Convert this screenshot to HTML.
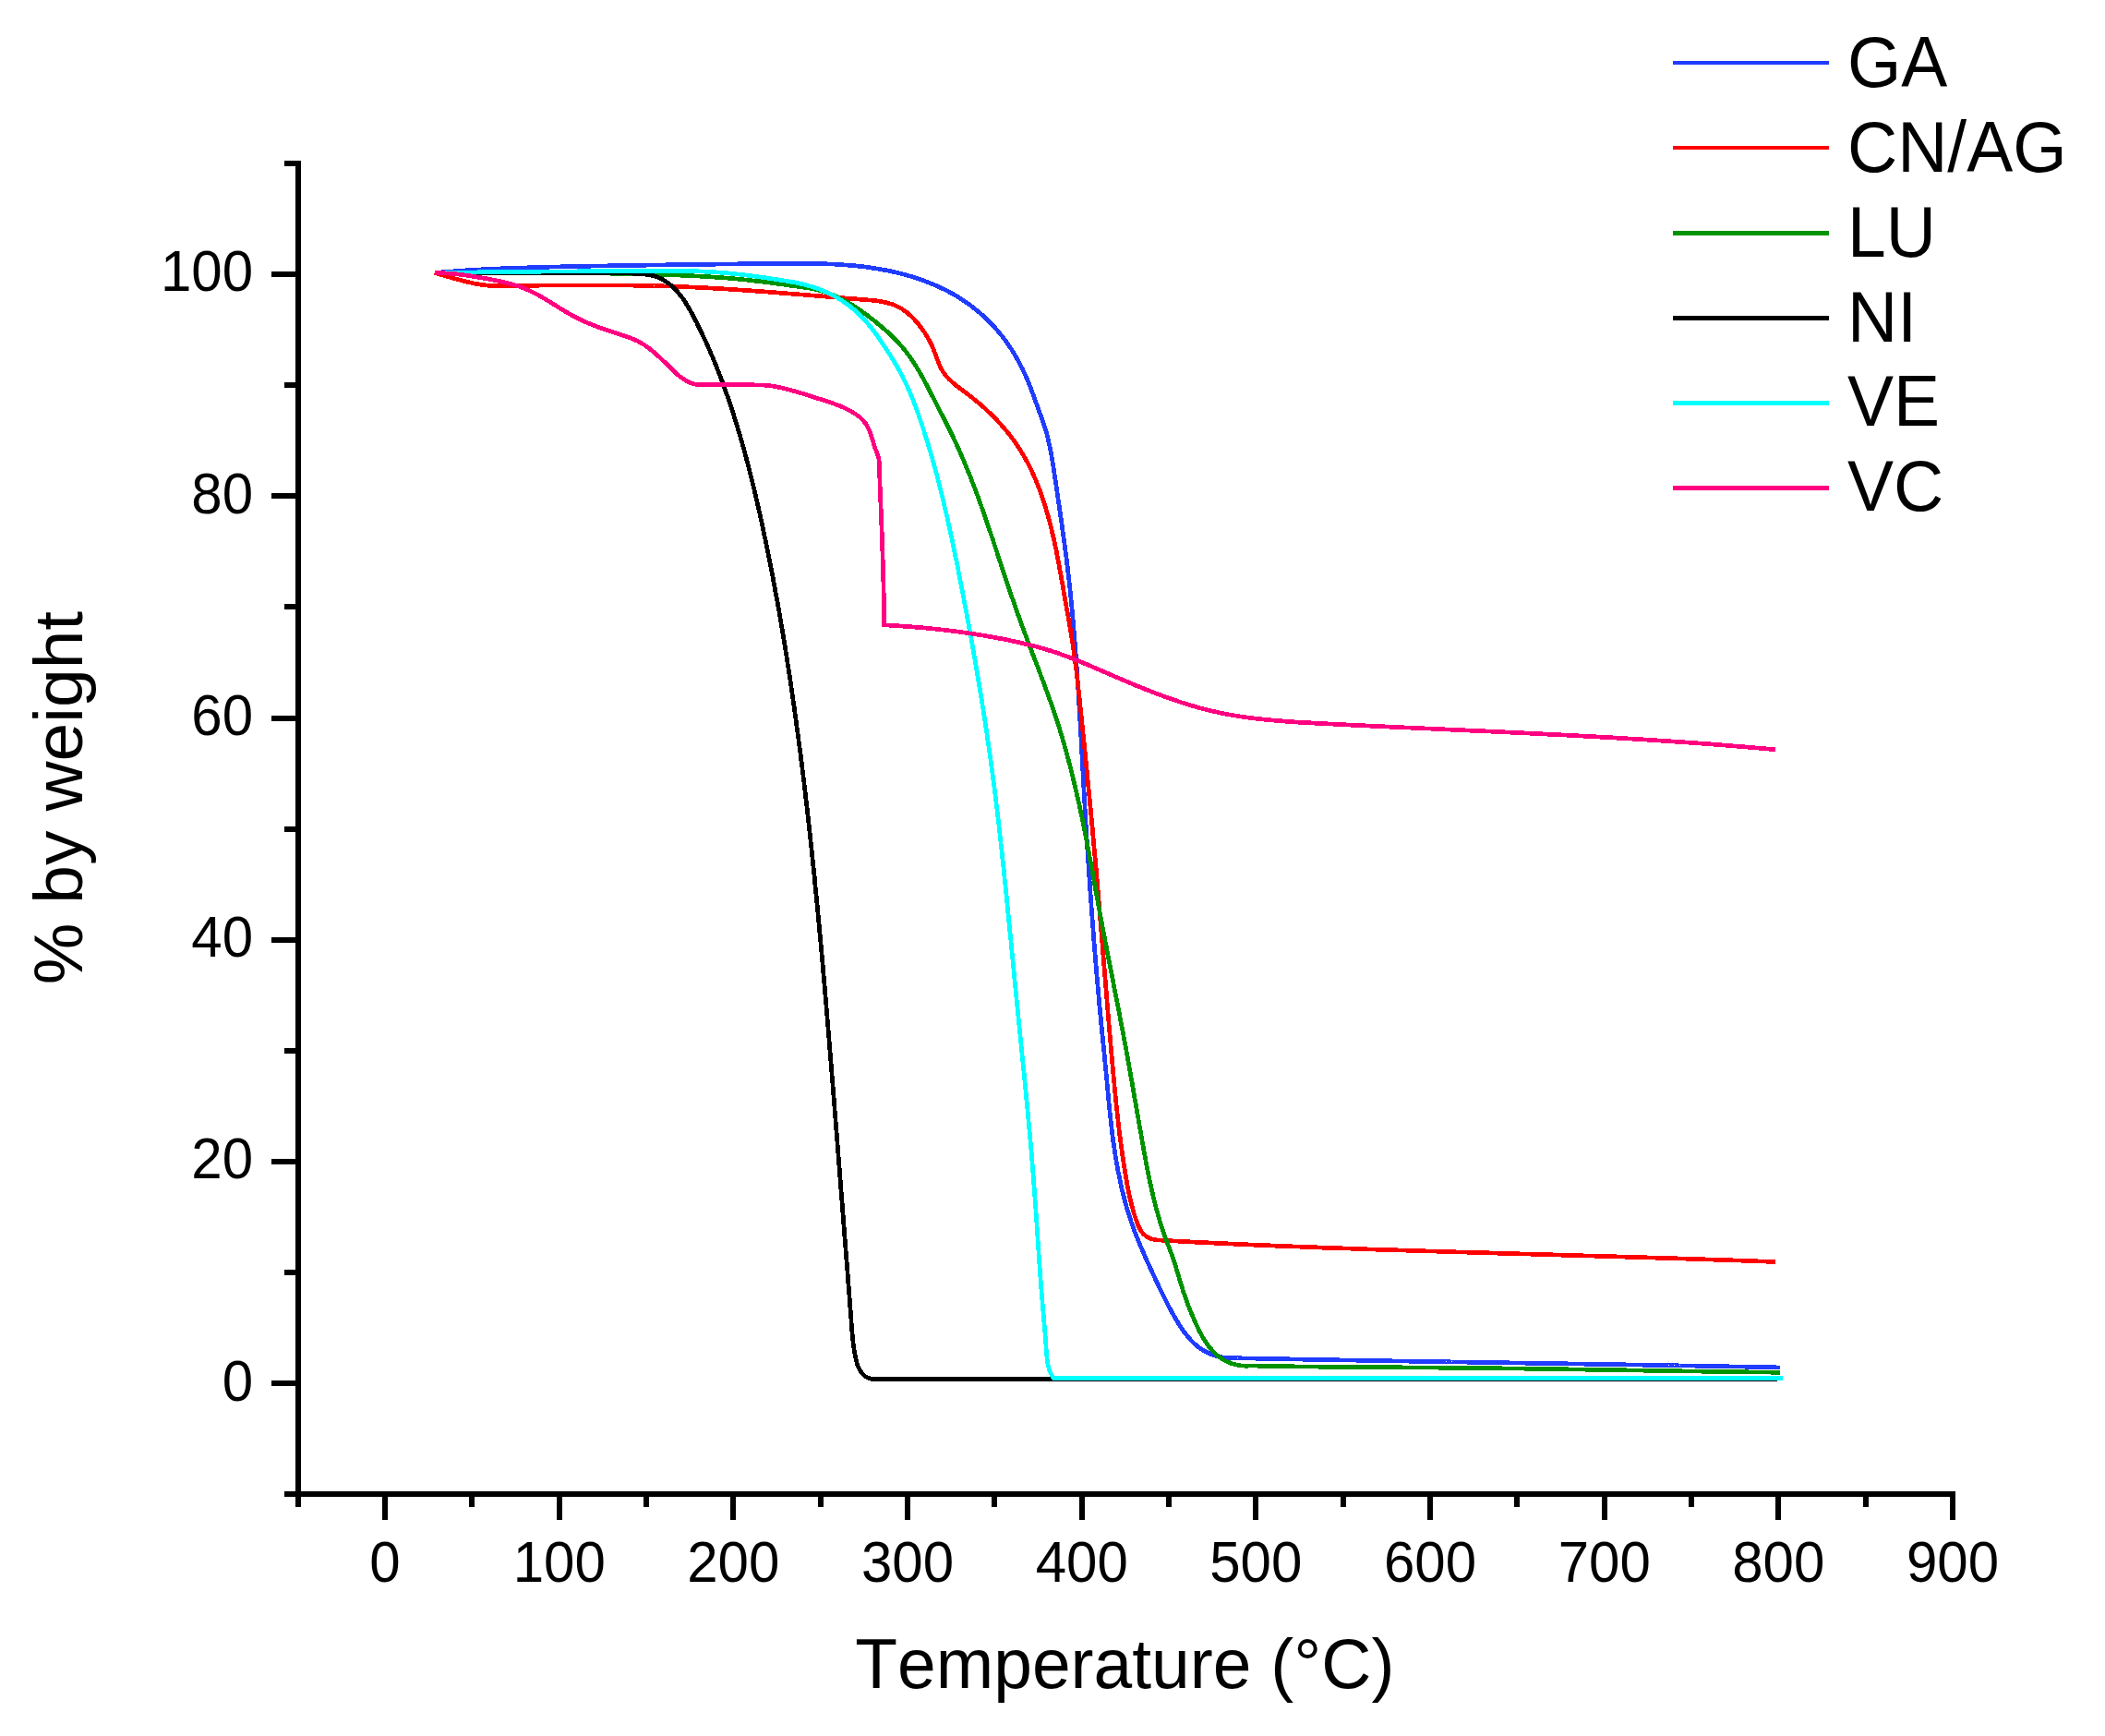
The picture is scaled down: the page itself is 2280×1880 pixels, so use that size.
<!DOCTYPE html>
<html lang="en"><head><meta charset="utf-8"><title>TGA curves</title>
<style>
html,body{margin:0;padding:0;background:#fff;}
body{width:2280px;height:1880px;overflow:hidden;}
svg{display:block;}
text{font-family:"Liberation Sans",sans-serif;fill:#000;font-kerning:none;}
.tick{font-size:60px;}
.ttl{font-size:75px;}
.leg{font-size:75px;}
</style></head><body>
<svg width="2280" height="1880" viewBox="0 0 2280 1880">
<rect x="0" y="0" width="2280" height="1880" fill="#fff"/>

<g fill="none" stroke-width="4.7" stroke-linejoin="round" stroke-linecap="butt" shape-rendering="crispEdges">
<path stroke="#1f3cff" d="M470.7,295.5 L473.7,295.3 L476.7,295.0 L479.7,294.7 L482.7,294.5 L485.7,294.2 L488.6,294.0 L491.6,293.8 L494.6,293.5 L497.6,293.3 L500.6,293.1 L503.6,292.9 L506.6,292.7 L509.6,292.5 L512.6,292.4 L515.6,292.2 L518.6,292.0 L521.6,291.8 L524.6,291.7 L527.6,291.5 L530.6,291.4 L533.6,291.2 L536.6,291.1 L539.6,291.0 L542.6,290.8 L545.6,290.7 L548.6,290.6 L551.6,290.5 L554.6,290.4 L557.6,290.3 L560.6,290.2 L563.6,290.1 L566.6,290.0 L569.6,289.9 L572.6,289.8 L575.6,289.7 L578.6,289.6 L581.7,289.5 L584.7,289.4 L587.7,289.3 L590.7,289.3 L593.7,289.2 L596.7,289.1 L599.7,289.0 L602.7,289.0 L605.7,288.9 L608.7,288.8 L611.7,288.8 L614.7,288.7 L617.7,288.6 L620.7,288.6 L623.7,288.5 L626.7,288.4 L629.7,288.4 L632.7,288.3 L635.7,288.3 L638.7,288.2 L641.7,288.1 L644.7,288.1 L647.7,288.0 L650.7,288.0 L653.7,287.9 L656.7,287.9 L659.7,287.8 L662.7,287.8 L665.7,287.7 L668.7,287.7 L671.7,287.6 L674.7,287.6 L677.7,287.5 L680.7,287.5 L683.7,287.4 L686.7,287.4 L689.7,287.3 L692.7,287.3 L695.8,287.2 L698.8,287.2 L701.8,287.1 L704.8,287.1 L707.8,287.1 L710.8,287.0 L713.8,287.0 L716.8,286.9 L719.8,286.9 L722.8,286.8 L725.8,286.8 L728.8,286.8 L731.8,286.7 L734.8,286.7 L737.8,286.6 L740.8,286.6 L743.8,286.5 L746.8,286.5 L749.8,286.5 L752.8,286.4 L755.8,286.4 L758.8,286.3 L761.8,286.3 L764.8,286.3 L767.8,286.2 L770.8,286.2 L773.8,286.2 L776.8,286.1 L779.8,286.1 L782.8,286.0 L785.8,286.0 L788.8,286.0 L791.8,285.9 L794.8,285.9 L797.8,285.9 L800.8,285.8 L803.8,285.8 L806.8,285.8 L809.8,285.7 L812.9,285.7 L815.9,285.7 L818.9,285.6 L821.9,285.6 L824.9,285.6 L827.9,285.5 L830.9,285.5 L833.9,285.5 L836.9,285.4 L839.9,285.4 L842.9,285.4 L845.9,285.3 L848.9,285.3 L851.9,285.3 L854.9,285.3 L857.9,285.3 L860.9,285.2 L863.9,285.2 L867.0,285.3 L870.0,285.3 L873.0,285.3 L876.0,285.3 L879.0,285.4 L882.0,285.4 L885.0,285.5 L888.0,285.6 L891.0,285.6 L894.0,285.7 L897.0,285.9 L900.0,286.0 L903.0,286.1 L906.0,286.3 L909.0,286.5 L911.9,286.7 L914.9,286.9 L917.9,287.1 L920.9,287.4 L923.9,287.6 L926.9,287.9 L929.9,288.2 L932.9,288.6 L935.8,288.9 L938.8,289.3 L941.8,289.7 L944.8,290.2 L947.7,290.6 L950.7,291.1 L953.7,291.6 L956.6,292.2 L959.6,292.7 L962.6,293.3 L965.5,293.9 L968.4,294.6 L971.4,295.3 L974.3,296.0 L977.2,296.7 L980.1,297.5 L983.0,298.3 L985.9,299.1 L988.8,300.0 L991.7,300.9 L994.5,301.9 L997.4,302.8 L1000.2,303.8 L1003.0,304.9 L1005.8,305.9 L1008.6,307.1 L1011.3,308.2 L1014.1,309.4 L1016.8,310.6 L1019.5,311.9 L1022.2,313.2 L1024.9,314.5 L1027.5,315.9 L1030.2,317.3 L1032.8,318.8 L1035.4,320.3 L1037.9,321.8 L1040.5,323.4 L1043.0,325.1 L1045.5,326.7 L1048.0,328.5 L1050.4,330.2 L1052.8,332.0 L1055.2,333.9 L1057.5,335.7 L1059.9,337.7 L1062.1,339.6 L1064.4,341.6 L1066.6,343.7 L1068.8,345.8 L1071.0,347.9 L1073.1,350.0 L1075.2,352.2 L1077.2,354.4 L1079.2,356.7 L1081.2,359.0 L1083.1,361.3 L1085.0,363.6 L1086.9,366.0 L1088.7,368.4 L1090.4,370.8 L1092.2,373.3 L1093.8,375.7 L1095.5,378.2 L1097.1,380.8 L1098.6,383.3 L1100.1,385.9 L1101.6,388.5 L1103.1,391.1 L1104.5,393.8 L1105.8,396.4 L1107.2,399.1 L1108.5,401.8 L1109.8,404.5 L1111.0,407.3 L1112.2,410.0 L1113.4,412.8 L1114.5,415.5 L1115.6,418.3 L1116.7,421.1 L1117.8,424.0 L1118.8,426.8 L1119.9,429.6 L1120.9,432.4 L1121.9,435.3 L1122.9,438.1 L1123.9,440.9 L1124.9,443.8 L1125.9,446.6 L1127.0,449.4 L1128.0,452.2 L1129.0,455.1 L1130.0,457.9 L1131.0,460.7 L1132.0,463.5 L1132.9,466.4 L1133.7,469.3 L1134.4,472.2 L1135.1,475.1 L1135.8,478.0 L1136.4,480.9 L1137.1,483.9 L1137.7,486.8 L1138.2,489.8 L1138.8,492.7 L1139.3,495.7 L1139.8,498.6 L1140.3,501.6 L1140.8,504.6 L1141.2,507.5 L1141.7,510.5 L1142.1,513.5 L1142.6,516.5 L1143.0,519.4 L1143.5,522.4 L1143.9,525.4 L1144.3,528.4 L1144.8,531.3 L1145.2,534.3 L1145.7,537.3 L1146.1,540.3 L1146.5,543.2 L1147.0,546.2 L1147.4,549.2 L1147.8,552.2 L1148.3,555.1 L1148.7,558.1 L1149.1,561.1 L1149.5,564.1 L1150.0,567.0 L1150.4,570.0 L1150.8,573.0 L1151.2,576.0 L1151.6,578.9 L1152.0,581.9 L1152.4,584.9 L1152.8,587.9 L1153.2,590.8 L1153.6,593.8 L1154.0,596.8 L1154.4,599.8 L1154.8,602.7 L1155.2,605.7 L1155.5,608.7 L1155.9,611.7 L1156.3,614.7 L1156.6,617.6 L1157.0,620.6 L1157.3,623.6 L1157.7,626.6 L1158.0,629.6 L1158.3,632.5 L1158.7,635.5 L1159.0,638.5 L1159.3,641.5 L1159.6,644.5 L1159.9,647.5 L1160.2,650.5 L1160.5,653.4 L1160.8,656.4 L1161.1,659.4 L1161.4,662.4 L1161.6,665.4 L1161.9,668.4 L1162.2,671.4 L1162.4,674.4 L1162.7,677.4 L1163.0,680.3 L1163.2,683.3 L1163.5,686.3 L1163.7,689.3 L1163.9,692.3 L1164.2,695.3 L1164.4,698.3 L1164.7,701.3 L1164.9,704.3 L1165.1,707.3 L1165.3,710.3 L1165.6,713.3 L1165.8,716.3 L1166.0,719.3 L1166.2,722.3 L1166.4,725.3 L1166.6,728.3 L1166.8,731.3 L1167.0,734.3 L1167.2,737.3 L1167.4,740.2 L1167.6,743.2 L1167.8,746.2 L1168.0,749.2 L1168.2,752.2 L1168.3,755.2 L1168.5,758.2 L1168.7,761.2 L1168.9,764.2 L1169.1,767.2 L1169.2,770.2 L1169.4,773.2 L1169.6,776.2 L1169.8,779.2 L1169.9,782.2 L1170.1,785.2 L1170.3,788.2 L1170.5,791.2 L1170.6,794.2 L1170.8,797.2 L1171.0,800.2 L1171.1,803.2 L1171.3,806.2 L1171.4,809.2 L1171.6,812.2 L1171.8,815.2 L1171.9,818.3 L1172.1,821.3 L1172.3,824.3 L1172.4,827.3 L1172.6,830.3 L1172.8,833.3 L1172.9,836.3 L1173.1,839.3 L1173.3,842.3 L1173.4,845.3 L1173.6,848.3 L1173.8,851.3 L1173.9,854.3 L1174.1,857.3 L1174.3,860.3 L1174.4,863.3 L1174.6,866.3 L1174.8,869.3 L1175.0,872.3 L1175.1,875.3 L1175.3,878.3 L1175.5,881.3 L1175.7,884.3 L1175.8,887.3 L1176.0,890.3 L1176.2,893.3 L1176.4,896.3 L1176.6,899.3 L1176.7,902.2 L1176.9,905.2 L1177.1,908.2 L1177.3,911.2 L1177.5,914.2 L1177.7,917.2 L1177.9,920.2 L1178.1,923.2 L1178.3,926.2 L1178.5,929.2 L1178.7,932.2 L1178.9,935.2 L1179.1,938.2 L1179.3,941.2 L1179.5,944.2 L1179.7,947.2 L1179.9,950.2 L1180.1,953.2 L1180.3,956.2 L1180.5,959.2 L1180.7,962.2 L1180.9,965.2 L1181.1,968.2 L1181.3,971.2 L1181.5,974.2 L1181.8,977.2 L1182.0,980.2 L1182.2,983.2 L1182.4,986.2 L1182.6,989.1 L1182.9,992.1 L1183.1,995.1 L1183.3,998.1 L1183.5,1001.1 L1183.8,1004.1 L1184.0,1007.1 L1184.2,1010.1 L1184.5,1013.1 L1184.7,1016.1 L1184.9,1019.1 L1185.2,1022.1 L1185.4,1025.1 L1185.7,1028.1 L1185.9,1031.1 L1186.1,1034.1 L1186.4,1037.0 L1186.6,1040.0 L1186.9,1043.0 L1187.1,1046.0 L1187.4,1049.0 L1187.7,1052.0 L1187.9,1055.0 L1188.2,1058.0 L1188.4,1061.0 L1188.7,1064.0 L1189.0,1067.0 L1189.2,1070.0 L1189.5,1073.0 L1189.8,1075.9 L1190.0,1078.9 L1190.3,1081.9 L1190.6,1084.9 L1190.8,1087.9 L1191.1,1090.9 L1191.4,1093.9 L1191.7,1096.9 L1192.0,1099.9 L1192.3,1102.9 L1192.5,1105.9 L1192.8,1108.8 L1193.1,1111.8 L1193.4,1114.8 L1193.7,1117.8 L1194.0,1120.8 L1194.3,1123.8 L1194.6,1126.8 L1194.9,1129.8 L1195.2,1132.8 L1195.5,1135.7 L1195.8,1138.7 L1196.1,1141.7 L1196.4,1144.7 L1196.7,1147.7 L1196.9,1150.7 L1197.2,1153.7 L1197.5,1156.7 L1197.8,1159.7 L1198.1,1162.7 L1198.4,1165.7 L1198.7,1168.6 L1199.0,1171.6 L1199.2,1174.6 L1199.5,1177.6 L1199.8,1180.6 L1200.1,1183.6 L1200.4,1186.6 L1200.7,1189.6 L1200.9,1192.6 L1201.2,1195.6 L1201.5,1198.6 L1201.8,1201.5 L1202.1,1204.5 L1202.4,1207.5 L1202.8,1210.5 L1203.1,1213.5 L1203.4,1216.5 L1203.8,1219.5 L1204.1,1222.4 L1204.5,1225.4 L1204.8,1228.4 L1205.2,1231.4 L1205.6,1234.4 L1206.0,1237.4 L1206.4,1240.3 L1206.9,1243.3 L1207.3,1246.3 L1207.8,1249.3 L1208.2,1252.2 L1208.7,1255.2 L1209.2,1258.1 L1209.7,1261.1 L1210.3,1264.1 L1210.8,1267.0 L1211.4,1270.0 L1212.0,1272.9 L1212.6,1275.8 L1213.2,1278.8 L1213.8,1281.7 L1214.5,1284.6 L1215.1,1287.6 L1215.8,1290.5 L1216.6,1293.4 L1217.3,1296.3 L1218.0,1299.2 L1218.8,1302.1 L1219.6,1305.0 L1220.4,1307.9 L1221.3,1310.8 L1222.2,1313.6 L1223.1,1316.5 L1224.0,1319.3 L1224.9,1322.2 L1225.9,1325.0 L1226.9,1327.9 L1227.9,1330.7 L1229.0,1333.5 L1230.0,1336.3 L1231.1,1339.1 L1232.2,1341.9 L1233.4,1344.7 L1234.5,1347.5 L1235.7,1350.3 L1236.9,1353.1 L1238.1,1355.8 L1239.3,1358.6 L1240.5,1361.3 L1241.7,1364.1 L1243.0,1366.8 L1244.2,1369.6 L1245.5,1372.3 L1246.7,1375.0 L1248.0,1377.8 L1249.2,1380.5 L1250.5,1383.2 L1251.7,1385.9 L1253.0,1388.6 L1254.3,1391.3 L1255.6,1394.0 L1256.8,1396.7 L1258.1,1399.4 L1259.4,1402.0 L1260.8,1404.7 L1262.1,1407.4 L1263.5,1410.1 L1264.9,1412.7 L1266.2,1415.4 L1267.7,1418.0 L1269.1,1420.7 L1270.6,1423.3 L1272.1,1425.9 L1273.6,1428.6 L1275.2,1431.2 L1276.8,1433.8 L1278.4,1436.4 L1280.1,1438.9 L1281.8,1441.4 L1283.6,1443.8 L1285.5,1446.2 L1287.4,1448.5 L1289.4,1450.8 L1291.4,1452.9 L1293.6,1455.0 L1295.8,1456.9 L1298.1,1458.8 L1300.5,1460.5 L1303.0,1462.1 L1305.6,1463.6 L1308.2,1465.0 L1310.9,1466.2 L1313.7,1467.3 L1316.6,1468.2 L1319.5,1469.0 L1322.4,1469.6 L1325.4,1470.1 L1328.4,1470.5 L1331.4,1470.6 L1334.5,1470.6 L1337.5,1470.7 L1340.5,1470.8 L1343.5,1470.8 L1346.6,1470.9 L1349.6,1471.0 L1352.6,1471.0 L1355.6,1471.1 L1358.6,1471.1 L1361.6,1471.2 L1364.6,1471.3 L1367.6,1471.3 L1370.7,1471.4 L1373.7,1471.4 L1376.7,1471.5 L1379.7,1471.6 L1382.7,1471.6 L1385.7,1471.7 L1388.7,1471.7 L1391.7,1471.8 L1394.8,1471.8 L1397.8,1471.9 L1400.8,1472.0 L1403.8,1472.0 L1406.8,1472.1 L1409.8,1472.1 L1412.8,1472.2 L1415.8,1472.2 L1418.9,1472.3 L1421.9,1472.3 L1424.9,1472.4 L1427.9,1472.5 L1430.9,1472.5 L1433.9,1472.6 L1436.9,1472.6 L1439.9,1472.7 L1443.0,1472.7 L1446.0,1472.8 L1449.0,1472.8 L1452.0,1472.9 L1455.0,1472.9 L1458.0,1473.0 L1461.0,1473.0 L1464.0,1473.1 L1467.1,1473.1 L1470.1,1473.2 L1473.1,1473.3 L1476.1,1473.3 L1479.1,1473.4 L1482.1,1473.4 L1485.1,1473.5 L1488.1,1473.5 L1491.2,1473.6 L1494.2,1473.6 L1497.2,1473.7 L1500.2,1473.7 L1503.2,1473.8 L1506.2,1473.8 L1509.2,1473.9 L1512.2,1473.9 L1515.3,1474.0 L1518.3,1474.0 L1521.3,1474.1 L1524.3,1474.1 L1527.3,1474.2 L1530.3,1474.2 L1533.3,1474.3 L1536.3,1474.3 L1539.4,1474.4 L1542.4,1474.4 L1545.4,1474.4 L1548.4,1474.5 L1551.4,1474.5 L1554.4,1474.6 L1557.4,1474.6 L1560.4,1474.7 L1563.5,1474.7 L1566.5,1474.8 L1569.5,1474.8 L1572.5,1474.9 L1575.5,1474.9 L1578.5,1475.0 L1581.5,1475.0 L1584.5,1475.1 L1587.6,1475.1 L1590.6,1475.2 L1593.6,1475.2 L1596.6,1475.3 L1599.6,1475.3 L1602.6,1475.4 L1605.6,1475.4 L1608.6,1475.4 L1611.7,1475.5 L1614.7,1475.5 L1617.7,1475.6 L1620.7,1475.6 L1623.7,1475.7 L1626.7,1475.7 L1629.7,1475.8 L1632.7,1475.8 L1635.8,1475.9 L1638.8,1475.9 L1641.8,1476.0 L1644.8,1476.0 L1647.8,1476.1 L1650.8,1476.1 L1653.8,1476.2 L1656.9,1476.2 L1659.9,1476.2 L1662.9,1476.3 L1665.9,1476.3 L1668.9,1476.4 L1671.9,1476.4 L1674.9,1476.5 L1677.9,1476.5 L1681.0,1476.6 L1684.0,1476.6 L1687.0,1476.7 L1690.0,1476.7 L1693.0,1476.8 L1696.0,1476.8 L1699.0,1476.9 L1702.0,1476.9 L1705.1,1477.0 L1708.1,1477.0 L1711.1,1477.1 L1714.1,1477.1 L1717.1,1477.2 L1720.1,1477.2 L1723.1,1477.2 L1726.1,1477.3 L1729.2,1477.3 L1732.2,1477.4 L1735.2,1477.4 L1738.2,1477.5 L1741.2,1477.5 L1744.2,1477.6 L1747.2,1477.6 L1750.2,1477.7 L1753.3,1477.7 L1756.3,1477.8 L1759.3,1477.8 L1762.3,1477.9 L1765.3,1477.9 L1768.3,1478.0 L1771.3,1478.0 L1774.3,1478.1 L1777.4,1478.1 L1780.4,1478.2 L1783.4,1478.2 L1786.4,1478.3 L1789.4,1478.3 L1792.4,1478.4 L1795.4,1478.4 L1798.4,1478.5 L1801.5,1478.5 L1804.5,1478.6 L1807.5,1478.7 L1810.5,1478.7 L1813.5,1478.8 L1816.5,1478.8 L1819.5,1478.9 L1822.5,1478.9 L1825.6,1479.0 L1828.6,1479.0 L1831.6,1479.1 L1834.6,1479.1 L1837.6,1479.2 L1840.6,1479.2 L1843.6,1479.3 L1846.6,1479.3 L1849.7,1479.4 L1852.7,1479.5 L1855.7,1479.5 L1858.7,1479.6 L1861.7,1479.6 L1864.7,1479.7 L1867.7,1479.7 L1870.8,1479.8 L1873.8,1479.9 L1876.8,1479.9 L1879.8,1480.0 L1882.8,1480.0 L1885.8,1480.1 L1888.8,1480.1 L1891.8,1480.2 L1894.9,1480.3 L1897.9,1480.3 L1900.9,1480.4 L1903.9,1480.4 L1906.9,1480.5 L1909.9,1480.6 L1912.9,1480.6 L1915.9,1480.7 L1919.0,1480.7 L1922.0,1480.8 L1925.0,1480.9 L1928.0,1480.9"/>
<path stroke="#ff0000" d="M470.7,295.5 L473.7,296.3 L476.7,297.2 L479.7,298.0 L482.7,298.9 L485.7,299.7 L488.7,300.6 L491.7,301.5 L494.7,302.3 L497.7,303.1 L500.7,303.9 L503.7,304.7 L506.7,305.4 L509.7,306.1 L512.8,306.8 L515.8,307.4 L518.9,307.9 L522.0,308.4 L525.0,308.8 L528.1,309.2 L531.3,309.4 L534.3,309.4 L537.3,309.4 L540.3,309.4 L543.2,309.4 L546.2,309.4 L549.2,309.4 L552.2,309.4 L555.2,309.3 L558.2,309.3 L561.2,309.3 L564.3,309.3 L567.3,309.3 L570.3,309.2 L573.3,309.2 L576.3,309.2 L579.3,309.2 L582.3,309.2 L585.3,309.1 L588.3,309.1 L591.3,309.1 L594.3,309.1 L597.3,309.1 L600.3,309.0 L603.3,309.0 L606.3,309.0 L609.3,309.0 L612.3,309.0 L615.3,309.0 L618.3,308.9 L621.4,308.9 L624.4,308.9 L627.4,308.9 L630.4,308.9 L633.4,308.9 L636.4,308.9 L639.4,308.9 L642.4,308.9 L645.4,308.9 L648.4,308.9 L651.4,308.9 L654.4,308.9 L657.5,308.9 L660.5,308.9 L663.5,308.9 L666.5,309.0 L669.5,309.0 L672.5,309.0 L675.5,309.0 L678.5,309.1 L681.5,309.1 L684.5,309.1 L687.5,309.2 L690.5,309.2 L693.5,309.3 L696.5,309.3 L699.5,309.4 L702.5,309.4 L705.5,309.5 L708.5,309.6 L711.6,309.6 L714.6,309.7 L717.6,309.8 L720.6,309.9 L723.6,310.0 L726.6,310.1 L729.6,310.2 L732.6,310.3 L735.6,310.4 L738.6,310.5 L741.6,310.6 L744.5,310.8 L747.5,310.9 L750.5,311.0 L753.5,311.2 L756.5,311.3 L759.5,311.5 L762.5,311.6 L765.5,311.8 L768.5,311.9 L771.5,312.1 L774.5,312.3 L777.5,312.4 L780.5,312.6 L783.5,312.8 L786.5,313.0 L789.5,313.2 L792.4,313.4 L795.4,313.6 L798.4,313.8 L801.4,314.0 L804.4,314.2 L807.4,314.4 L810.4,314.6 L813.4,314.8 L816.4,315.0 L819.4,315.3 L822.4,315.5 L825.4,315.7 L828.3,315.9 L831.3,316.1 L834.3,316.4 L837.3,316.6 L840.3,316.8 L843.3,317.1 L846.3,317.3 L849.3,317.5 L852.3,317.8 L855.3,318.0 L858.3,318.3 L861.3,318.5 L864.3,318.7 L867.3,319.0 L870.3,319.2 L873.3,319.5 L876.3,319.7 L879.3,320.0 L882.3,320.2 L885.3,320.5 L888.3,320.7 L891.3,320.9 L894.3,321.2 L897.3,321.4 L900.3,321.7 L903.3,321.9 L906.3,322.2 L909.3,322.4 L912.3,322.6 L915.3,322.9 L918.3,323.1 L921.4,323.4 L924.4,323.6 L927.4,323.8 L930.4,324.1 L933.4,324.3 L936.4,324.5 L939.5,324.8 L942.5,325.0 L945.5,325.3 L948.4,325.7 L951.4,326.1 L954.3,326.5 L957.2,327.1 L960.1,327.7 L962.9,328.5 L965.7,329.3 L968.4,330.3 L971.1,331.5 L973.8,332.8 L976.3,334.2 L978.8,335.9 L981.3,337.6 L983.6,339.5 L985.9,341.5 L988.2,343.7 L990.3,345.9 L992.4,348.2 L994.4,350.6 L996.3,353.0 L998.2,355.4 L999.9,357.9 L1001.6,360.4 L1003.2,362.9 L1004.7,365.4 L1006.1,367.9 L1007.5,370.5 L1008.8,373.1 L1010.0,375.8 L1011.2,378.5 L1012.3,381.4 L1013.3,384.2 L1014.4,387.2 L1015.5,390.1 L1016.6,393.0 L1017.8,395.8 L1019.1,398.6 L1020.5,401.2 L1022.1,403.7 L1023.9,406.1 L1025.8,408.3 L1027.8,410.5 L1029.9,412.5 L1032.1,414.5 L1034.3,416.4 L1036.7,418.2 L1039.0,420.0 L1041.4,421.8 L1043.8,423.6 L1046.2,425.4 L1048.6,427.2 L1051.0,429.1 L1053.4,431.0 L1055.7,432.9 L1058.1,434.8 L1060.4,436.7 L1062.7,438.7 L1064.9,440.7 L1067.2,442.7 L1069.4,444.8 L1071.6,446.9 L1073.7,449.0 L1075.9,451.1 L1078.0,453.2 L1080.1,455.4 L1082.1,457.6 L1084.2,459.8 L1086.2,462.1 L1088.1,464.4 L1090.1,466.7 L1091.9,469.0 L1093.8,471.3 L1095.6,473.7 L1097.4,476.1 L1099.2,478.6 L1100.9,481.0 L1102.6,483.5 L1104.2,486.0 L1105.8,488.5 L1107.3,491.1 L1108.9,493.7 L1110.3,496.2 L1111.8,498.9 L1113.2,501.5 L1114.6,504.2 L1115.9,506.9 L1117.2,509.6 L1118.5,512.3 L1119.7,515.0 L1120.9,517.8 L1122.1,520.5 L1123.2,523.3 L1124.3,526.1 L1125.4,528.9 L1126.5,531.7 L1127.5,534.6 L1128.5,537.4 L1129.5,540.3 L1130.4,543.1 L1131.3,546.0 L1132.2,548.9 L1133.1,551.7 L1134.0,554.6 L1134.8,557.5 L1135.6,560.4 L1136.4,563.3 L1137.1,566.2 L1137.9,569.1 L1138.6,572.1 L1139.3,575.0 L1140.0,577.9 L1140.7,580.8 L1141.4,583.7 L1142.0,586.7 L1142.6,589.6 L1143.3,592.5 L1143.9,595.5 L1144.5,598.4 L1145.0,601.3 L1145.6,604.3 L1146.2,607.2 L1146.7,610.2 L1147.3,613.1 L1147.8,616.1 L1148.4,619.0 L1148.9,622.0 L1149.4,624.9 L1149.9,627.9 L1150.5,630.8 L1151.0,633.8 L1151.5,636.7 L1152.0,639.7 L1152.5,642.7 L1153.0,645.6 L1153.5,648.6 L1154.1,651.5 L1154.6,654.5 L1155.1,657.5 L1155.6,660.4 L1156.2,663.4 L1156.7,666.3 L1157.2,669.3 L1157.7,672.2 L1158.2,675.2 L1158.7,678.2 L1159.3,681.1 L1159.8,684.1 L1160.2,687.1 L1160.7,690.0 L1161.2,693.0 L1161.7,696.0 L1162.1,698.9 L1162.6,701.9 L1163.0,704.9 L1163.5,707.8 L1163.9,710.8 L1164.3,713.8 L1164.7,716.8 L1165.0,719.8 L1165.4,722.7 L1165.8,725.7 L1166.1,728.7 L1166.5,731.7 L1166.8,734.7 L1167.1,737.6 L1167.5,740.6 L1167.8,743.6 L1168.1,746.6 L1168.4,749.6 L1168.8,752.6 L1169.1,755.6 L1169.4,758.6 L1169.7,761.5 L1170.0,764.5 L1170.3,767.5 L1170.7,770.5 L1171.0,773.5 L1171.3,776.5 L1171.6,779.5 L1171.9,782.4 L1172.2,785.4 L1172.5,788.4 L1172.8,791.4 L1173.1,794.4 L1173.4,797.4 L1173.8,800.4 L1174.1,803.4 L1174.4,806.3 L1174.7,809.3 L1175.0,812.3 L1175.3,815.3 L1175.6,818.3 L1175.9,821.3 L1176.2,824.3 L1176.5,827.3 L1176.8,830.3 L1177.1,833.2 L1177.4,836.2 L1177.7,839.2 L1178.0,842.2 L1178.2,845.2 L1178.5,848.2 L1178.8,851.2 L1179.1,854.2 L1179.4,857.2 L1179.7,860.1 L1180.0,863.1 L1180.3,866.1 L1180.6,869.1 L1180.8,872.1 L1181.1,875.1 L1181.4,878.1 L1181.7,881.1 L1182.0,884.1 L1182.3,887.0 L1182.5,890.0 L1182.8,893.0 L1183.1,896.0 L1183.4,899.0 L1183.6,902.0 L1183.9,905.0 L1184.2,908.0 L1184.5,911.0 L1184.7,914.0 L1185.0,917.0 L1185.3,919.9 L1185.6,922.9 L1185.8,925.9 L1186.1,928.9 L1186.4,931.9 L1186.6,934.9 L1186.9,937.9 L1187.2,940.9 L1187.4,943.9 L1187.7,946.9 L1187.9,949.9 L1188.2,952.9 L1188.5,955.8 L1188.7,958.8 L1189.0,961.8 L1189.2,964.8 L1189.5,967.8 L1189.7,970.8 L1190.0,973.8 L1190.2,976.8 L1190.5,979.8 L1190.7,982.8 L1191.0,985.8 L1191.2,988.8 L1191.5,991.8 L1191.7,994.8 L1192.0,997.8 L1192.2,1000.7 L1192.5,1003.7 L1192.7,1006.7 L1192.9,1009.7 L1193.2,1012.7 L1193.4,1015.7 L1193.7,1018.7 L1193.9,1021.7 L1194.2,1024.7 L1194.4,1027.7 L1194.6,1030.7 L1194.9,1033.7 L1195.1,1036.7 L1195.4,1039.7 L1195.6,1042.7 L1195.9,1045.7 L1196.1,1048.7 L1196.3,1051.6 L1196.6,1054.6 L1196.8,1057.6 L1197.1,1060.6 L1197.3,1063.6 L1197.6,1066.6 L1197.8,1069.6 L1198.1,1072.6 L1198.3,1075.6 L1198.5,1078.6 L1198.8,1081.6 L1199.0,1084.6 L1199.3,1087.6 L1199.5,1090.6 L1199.8,1093.6 L1200.0,1096.6 L1200.3,1099.5 L1200.5,1102.5 L1200.8,1105.5 L1201.0,1108.5 L1201.3,1111.5 L1201.6,1114.5 L1201.8,1117.5 L1202.1,1120.5 L1202.3,1123.5 L1202.6,1126.5 L1202.9,1129.5 L1203.1,1132.5 L1203.4,1135.4 L1203.6,1138.4 L1203.9,1141.4 L1204.2,1144.4 L1204.5,1147.4 L1204.7,1150.4 L1205.0,1153.4 L1205.3,1156.4 L1205.5,1159.4 L1205.8,1162.4 L1206.1,1165.4 L1206.4,1168.3 L1206.7,1171.3 L1207.0,1174.3 L1207.2,1177.3 L1207.5,1180.3 L1207.8,1183.3 L1208.1,1186.3 L1208.4,1189.3 L1208.7,1192.2 L1209.0,1195.2 L1209.3,1198.2 L1209.7,1201.2 L1210.0,1204.2 L1210.3,1207.2 L1210.6,1210.2 L1211.0,1213.1 L1211.3,1216.1 L1211.6,1219.1 L1212.0,1222.1 L1212.3,1225.1 L1212.7,1228.1 L1213.1,1231.1 L1213.5,1234.0 L1213.9,1237.0 L1214.3,1240.0 L1214.7,1243.0 L1215.1,1246.0 L1215.5,1248.9 L1215.9,1251.9 L1216.4,1254.9 L1216.8,1257.9 L1217.3,1260.8 L1217.7,1263.8 L1218.2,1266.8 L1218.7,1269.7 L1219.2,1272.7 L1219.7,1275.6 L1220.2,1278.6 L1220.7,1281.5 L1221.3,1284.5 L1221.8,1287.4 L1222.4,1290.4 L1223.0,1293.3 L1223.6,1296.2 L1224.3,1299.1 L1225.0,1302.1 L1225.7,1305.0 L1226.5,1307.9 L1227.3,1310.8 L1228.1,1313.7 L1229.0,1316.6 L1230.0,1319.5 L1231.0,1322.4 L1232.1,1325.3 L1233.3,1328.1 L1234.6,1330.7 L1236.1,1333.3 L1237.9,1335.6 L1239.9,1337.6 L1242.2,1339.4 L1244.9,1340.8 L1247.8,1341.9 L1250.8,1342.6 L1253.8,1343.0 L1256.8,1343.1 L1259.8,1343.3 L1262.8,1343.5 L1265.8,1343.6 L1268.8,1343.8 L1271.8,1344.0 L1274.8,1344.1 L1277.8,1344.3 L1280.8,1344.4 L1283.8,1344.6 L1286.8,1344.8 L1289.8,1344.9 L1292.8,1345.1 L1295.8,1345.2 L1298.8,1345.4 L1301.8,1345.5 L1304.8,1345.7 L1307.8,1345.8 L1310.8,1346.0 L1313.8,1346.1 L1316.8,1346.3 L1319.8,1346.4 L1322.8,1346.5 L1325.8,1346.7 L1328.8,1346.8 L1331.8,1347.0 L1334.8,1347.1 L1337.8,1347.2 L1340.8,1347.4 L1343.8,1347.5 L1346.8,1347.6 L1349.8,1347.8 L1352.8,1347.9 L1355.8,1348.0 L1358.8,1348.2 L1361.8,1348.3 L1364.8,1348.4 L1367.8,1348.6 L1370.8,1348.7 L1373.8,1348.8 L1376.8,1348.9 L1379.8,1349.1 L1382.8,1349.2 L1385.8,1349.3 L1388.8,1349.4 L1391.8,1349.6 L1394.8,1349.7 L1397.8,1349.8 L1400.8,1349.9 L1403.8,1350.0 L1406.8,1350.1 L1409.8,1350.3 L1412.8,1350.4 L1415.8,1350.5 L1418.8,1350.6 L1421.8,1350.7 L1424.8,1350.8 L1427.8,1350.9 L1430.8,1351.1 L1433.9,1351.2 L1436.9,1351.3 L1439.9,1351.4 L1442.9,1351.5 L1445.9,1351.6 L1448.9,1351.7 L1451.9,1351.8 L1454.9,1351.9 L1457.9,1352.0 L1460.9,1352.1 L1463.9,1352.2 L1466.9,1352.3 L1469.9,1352.4 L1472.9,1352.5 L1475.9,1352.7 L1478.9,1352.8 L1481.9,1352.9 L1484.9,1353.0 L1487.9,1353.1 L1490.9,1353.2 L1493.9,1353.3 L1496.9,1353.4 L1499.9,1353.4 L1502.9,1353.5 L1505.9,1353.6 L1508.9,1353.7 L1511.9,1353.8 L1514.9,1353.9 L1517.9,1354.0 L1520.9,1354.1 L1523.9,1354.2 L1527.0,1354.3 L1530.0,1354.4 L1533.0,1354.5 L1536.0,1354.6 L1539.0,1354.7 L1542.0,1354.8 L1545.0,1354.9 L1548.0,1355.0 L1551.0,1355.1 L1554.0,1355.1 L1557.0,1355.2 L1560.0,1355.3 L1563.0,1355.4 L1566.0,1355.5 L1569.0,1355.6 L1572.0,1355.7 L1575.0,1355.8 L1578.0,1355.9 L1581.0,1356.0 L1584.0,1356.0 L1587.0,1356.1 L1590.0,1356.2 L1593.0,1356.3 L1596.0,1356.4 L1599.0,1356.5 L1602.0,1356.6 L1605.0,1356.7 L1608.1,1356.7 L1611.1,1356.8 L1614.1,1356.9 L1617.1,1357.0 L1620.1,1357.1 L1623.1,1357.2 L1626.1,1357.3 L1629.1,1357.4 L1632.1,1357.4 L1635.1,1357.5 L1638.1,1357.6 L1641.1,1357.7 L1644.1,1357.8 L1647.1,1357.9 L1650.1,1358.0 L1653.1,1358.0 L1656.1,1358.1 L1659.1,1358.2 L1662.1,1358.3 L1665.1,1358.4 L1668.1,1358.5 L1671.1,1358.6 L1674.1,1358.7 L1677.1,1358.7 L1680.1,1358.8 L1683.2,1358.9 L1686.2,1359.0 L1689.2,1359.1 L1692.2,1359.2 L1695.2,1359.3 L1698.2,1359.3 L1701.2,1359.4 L1704.2,1359.5 L1707.2,1359.6 L1710.2,1359.7 L1713.2,1359.8 L1716.2,1359.9 L1719.2,1360.0 L1722.2,1360.0 L1725.2,1360.1 L1728.2,1360.2 L1731.2,1360.3 L1734.2,1360.4 L1737.2,1360.5 L1740.2,1360.6 L1743.2,1360.7 L1746.2,1360.7 L1749.2,1360.8 L1752.2,1360.9 L1755.2,1361.0 L1758.2,1361.1 L1761.3,1361.2 L1764.3,1361.3 L1767.3,1361.4 L1770.3,1361.5 L1773.3,1361.5 L1776.3,1361.6 L1779.3,1361.7 L1782.3,1361.8 L1785.3,1361.9 L1788.3,1362.0 L1791.3,1362.1 L1794.3,1362.2 L1797.3,1362.3 L1800.3,1362.4 L1803.3,1362.5 L1806.3,1362.6 L1809.3,1362.7 L1812.3,1362.7 L1815.3,1362.8 L1818.3,1362.9 L1821.3,1363.0 L1824.3,1363.1 L1827.3,1363.2 L1830.3,1363.3 L1833.3,1363.4 L1836.3,1363.5 L1839.3,1363.6 L1842.3,1363.7 L1845.4,1363.8 L1848.4,1363.9 L1851.4,1364.0 L1854.4,1364.1 L1857.4,1364.2 L1860.4,1364.3 L1863.4,1364.4 L1866.4,1364.5 L1869.4,1364.6 L1872.4,1364.7 L1875.4,1364.8 L1878.4,1364.9 L1881.4,1365.0 L1884.4,1365.1 L1887.4,1365.2 L1890.4,1365.3 L1893.4,1365.4 L1896.4,1365.5 L1899.4,1365.6 L1902.4,1365.8 L1905.4,1365.9 L1908.4,1366.0 L1911.4,1366.1 L1914.4,1366.2 L1917.4,1366.3 L1920.4,1366.4 L1923.4,1366.5"/>
<path stroke="#009300" d="M470.7,295.5 L473.7,295.5 L476.7,295.5 L479.7,295.5 L482.7,295.5 L485.7,295.5 L488.7,295.5 L491.7,295.5 L494.7,295.5 L497.7,295.5 L500.7,295.5 L503.7,295.5 L506.7,295.5 L509.7,295.5 L512.7,295.5 L515.7,295.5 L518.7,295.5 L521.7,295.5 L524.7,295.5 L527.7,295.5 L530.7,295.5 L533.7,295.5 L536.7,295.5 L539.7,295.5 L542.7,295.5 L545.7,295.5 L548.7,295.5 L551.7,295.5 L554.7,295.5 L557.7,295.5 L560.7,295.5 L563.7,295.5 L566.7,295.5 L569.7,295.5 L572.7,295.5 L575.7,295.5 L578.7,295.5 L581.7,295.5 L584.7,295.5 L587.7,295.5 L590.7,295.5 L593.7,295.5 L596.7,295.5 L599.7,295.6 L602.7,295.6 L605.7,295.6 L608.7,295.6 L611.7,295.6 L614.8,295.6 L617.8,295.7 L620.8,295.7 L623.8,295.7 L626.8,295.7 L629.8,295.8 L632.8,295.8 L635.8,295.8 L638.8,295.8 L641.8,295.9 L644.8,295.9 L647.8,295.9 L650.8,296.0 L653.8,296.0 L656.8,296.1 L659.8,296.1 L662.8,296.2 L665.8,296.2 L668.8,296.3 L671.8,296.3 L674.8,296.4 L677.8,296.4 L680.8,296.5 L683.8,296.6 L686.8,296.6 L689.8,296.7 L692.8,296.8 L695.8,296.8 L698.8,296.9 L701.8,297.0 L704.8,297.1 L707.8,297.1 L710.8,297.2 L713.8,297.3 L716.8,297.4 L719.8,297.5 L722.8,297.6 L725.8,297.7 L728.8,297.8 L731.8,297.9 L734.8,298.0 L737.8,298.2 L740.8,298.3 L743.8,298.4 L746.8,298.6 L749.8,298.7 L752.8,298.9 L755.8,299.0 L758.8,299.2 L761.7,299.3 L764.7,299.5 L767.7,299.7 L770.7,299.9 L773.7,300.1 L776.7,300.3 L779.7,300.5 L782.7,300.8 L785.7,301.0 L788.7,301.2 L791.7,301.5 L794.7,301.8 L797.6,302.0 L800.6,302.3 L803.6,302.6 L806.6,302.9 L809.6,303.2 L812.6,303.6 L815.5,303.9 L818.5,304.3 L821.5,304.6 L824.5,305.0 L827.5,305.4 L830.4,305.7 L833.4,306.1 L836.4,306.5 L839.4,306.9 L842.4,307.3 L845.3,307.7 L848.3,308.1 L851.3,308.5 L854.3,309.0 L857.2,309.4 L860.2,309.8 L863.2,310.2 L866.2,310.6 L869.1,311.0 L872.1,311.4 L875.1,311.8 L878.0,312.3 L881.0,312.8 L883.9,313.5 L886.8,314.2 L889.7,314.9 L892.6,315.8 L895.4,316.8 L898.2,317.8 L901.0,318.9 L903.8,320.0 L906.5,321.3 L909.2,322.6 L911.9,323.9 L914.5,325.3 L917.1,326.8 L919.7,328.3 L922.3,329.8 L924.8,331.4 L927.3,333.0 L929.8,334.7 L932.3,336.4 L934.8,338.2 L937.2,339.9 L939.6,341.7 L942.0,343.6 L944.4,345.4 L946.8,347.3 L949.1,349.2 L951.5,351.1 L953.8,353.0 L956.1,354.9 L958.4,356.9 L960.6,358.9 L962.8,361.0 L965.0,363.0 L967.2,365.1 L969.3,367.2 L971.4,369.4 L973.4,371.6 L975.4,373.8 L977.4,376.0 L979.3,378.3 L981.1,380.7 L982.9,383.0 L984.7,385.4 L986.4,387.8 L988.1,390.3 L989.8,392.8 L991.4,395.3 L992.9,397.9 L994.5,400.4 L996.0,403.0 L997.5,405.6 L999.0,408.3 L1000.4,410.9 L1001.8,413.6 L1003.3,416.2 L1004.7,418.9 L1006.0,421.6 L1007.4,424.3 L1008.8,426.9 L1010.2,429.6 L1011.6,432.3 L1012.9,435.0 L1014.3,437.7 L1015.7,440.3 L1017.1,443.0 L1018.4,445.7 L1019.8,448.3 L1021.2,451.0 L1022.5,453.7 L1023.9,456.3 L1025.2,459.0 L1026.6,461.7 L1027.9,464.4 L1029.2,467.1 L1030.6,469.8 L1031.9,472.4 L1033.1,475.1 L1034.4,477.9 L1035.7,480.6 L1036.9,483.3 L1038.2,486.0 L1039.4,488.8 L1040.6,491.5 L1041.8,494.2 L1043.0,497.0 L1044.2,499.7 L1045.3,502.5 L1046.5,505.3 L1047.6,508.1 L1048.7,510.8 L1049.9,513.6 L1051.0,516.4 L1052.1,519.2 L1053.1,522.0 L1054.2,524.8 L1055.3,527.6 L1056.4,530.4 L1057.4,533.2 L1058.5,536.0 L1059.5,538.9 L1060.5,541.7 L1061.5,544.5 L1062.6,547.3 L1063.6,550.2 L1064.6,553.0 L1065.6,555.8 L1066.6,558.7 L1067.5,561.5 L1068.5,564.4 L1069.5,567.2 L1070.5,570.0 L1071.4,572.9 L1072.4,575.7 L1073.4,578.6 L1074.3,581.4 L1075.3,584.3 L1076.2,587.1 L1077.2,590.0 L1078.1,592.8 L1079.1,595.7 L1080.0,598.5 L1080.9,601.4 L1081.9,604.2 L1082.8,607.1 L1083.8,609.9 L1084.7,612.8 L1085.6,615.6 L1086.6,618.5 L1087.5,621.3 L1088.5,624.2 L1089.4,627.0 L1090.4,629.9 L1091.3,632.7 L1092.3,635.5 L1093.2,638.4 L1094.2,641.2 L1095.2,644.1 L1096.1,646.9 L1097.1,649.7 L1098.1,652.6 L1099.1,655.4 L1100.1,658.2 L1101.0,661.1 L1102.0,663.9 L1103.1,666.7 L1104.1,669.5 L1105.1,672.4 L1106.1,675.2 L1107.1,678.0 L1108.2,680.8 L1109.2,683.6 L1110.3,686.4 L1111.3,689.2 L1112.4,692.1 L1113.5,694.9 L1114.5,697.7 L1115.6,700.5 L1116.7,703.3 L1117.7,706.1 L1118.8,708.9 L1119.9,711.7 L1120.9,714.5 L1122.0,717.3 L1123.1,720.1 L1124.2,722.9 L1125.2,725.7 L1126.3,728.5 L1127.3,731.3 L1128.4,734.2 L1129.5,737.0 L1130.5,739.8 L1131.5,742.6 L1132.6,745.4 L1133.6,748.2 L1134.6,751.0 L1135.7,753.9 L1136.7,756.7 L1137.7,759.5 L1138.7,762.4 L1139.7,765.2 L1140.6,768.0 L1141.6,770.9 L1142.6,773.7 L1143.5,776.5 L1144.4,779.4 L1145.4,782.3 L1146.3,785.1 L1147.2,788.0 L1148.1,790.8 L1148.9,793.7 L1149.8,796.6 L1150.7,799.4 L1151.5,802.3 L1152.3,805.2 L1153.2,808.1 L1154.0,811.0 L1154.8,813.9 L1155.6,816.8 L1156.4,819.7 L1157.1,822.5 L1157.9,825.4 L1158.7,828.4 L1159.4,831.3 L1160.1,834.2 L1160.9,837.1 L1161.6,840.0 L1162.3,842.9 L1163.0,845.8 L1163.7,848.7 L1164.4,851.7 L1165.1,854.6 L1165.8,857.5 L1166.4,860.4 L1167.1,863.4 L1167.8,866.3 L1168.4,869.2 L1169.1,872.1 L1169.7,875.1 L1170.3,878.0 L1170.9,880.9 L1171.6,883.9 L1172.2,886.8 L1172.8,889.8 L1173.4,892.7 L1174.0,895.6 L1174.6,898.6 L1175.1,901.5 L1175.7,904.5 L1176.3,907.4 L1176.9,910.4 L1177.4,913.3 L1178.0,916.3 L1178.6,919.2 L1179.1,922.1 L1179.7,925.1 L1180.2,928.0 L1180.8,931.0 L1181.3,933.9 L1181.9,936.9 L1182.4,939.8 L1183.0,942.8 L1183.5,945.7 L1184.0,948.7 L1184.6,951.7 L1185.1,954.6 L1185.7,957.6 L1186.2,960.5 L1186.7,963.5 L1187.3,966.4 L1187.8,969.4 L1188.3,972.3 L1188.9,975.3 L1189.4,978.2 L1189.9,981.2 L1190.5,984.1 L1191.0,987.1 L1191.6,990.0 L1192.1,993.0 L1192.7,995.9 L1193.2,998.9 L1193.8,1001.8 L1194.3,1004.8 L1194.9,1007.7 L1195.4,1010.7 L1196.0,1013.6 L1196.6,1016.6 L1197.1,1019.5 L1197.7,1022.5 L1198.3,1025.4 L1198.8,1028.4 L1199.4,1031.3 L1200.0,1034.3 L1200.5,1037.2 L1201.1,1040.2 L1201.7,1043.1 L1202.3,1046.1 L1202.9,1049.0 L1203.4,1052.0 L1204.0,1054.9 L1204.6,1057.8 L1205.2,1060.8 L1205.8,1063.7 L1206.3,1066.7 L1206.9,1069.6 L1207.5,1072.6 L1208.1,1075.5 L1208.6,1078.5 L1209.2,1081.4 L1209.8,1084.4 L1210.4,1087.3 L1211.0,1090.3 L1211.5,1093.2 L1212.1,1096.1 L1212.7,1099.1 L1213.2,1102.0 L1213.8,1105.0 L1214.4,1107.9 L1214.9,1110.9 L1215.5,1113.8 L1216.0,1116.8 L1216.6,1119.7 L1217.1,1122.7 L1217.7,1125.6 L1218.2,1128.6 L1218.8,1131.5 L1219.3,1134.5 L1219.9,1137.4 L1220.4,1140.4 L1220.9,1143.3 L1221.5,1146.3 L1222.0,1149.2 L1222.5,1152.2 L1223.0,1155.1 L1223.6,1158.1 L1224.1,1161.0 L1224.6,1164.0 L1225.1,1166.9 L1225.6,1169.9 L1226.2,1172.8 L1226.7,1175.8 L1227.2,1178.8 L1227.7,1181.7 L1228.2,1184.7 L1228.7,1187.6 L1229.3,1190.6 L1229.8,1193.5 L1230.3,1196.5 L1230.8,1199.4 L1231.3,1202.4 L1231.8,1205.3 L1232.3,1208.3 L1232.9,1211.3 L1233.4,1214.2 L1233.9,1217.2 L1234.4,1220.1 L1234.9,1223.1 L1235.5,1226.0 L1236.0,1229.0 L1236.5,1232.0 L1237.0,1234.9 L1237.5,1237.9 L1238.1,1240.8 L1238.6,1243.8 L1239.1,1246.7 L1239.7,1249.7 L1240.2,1252.7 L1240.8,1255.6 L1241.3,1258.6 L1241.9,1261.5 L1242.4,1264.5 L1243.0,1267.4 L1243.6,1270.4 L1244.2,1273.3 L1244.8,1276.3 L1245.4,1279.2 L1246.0,1282.1 L1246.7,1285.1 L1247.3,1288.0 L1248.0,1290.9 L1248.6,1293.8 L1249.3,1296.8 L1250.0,1299.7 L1250.8,1302.6 L1251.5,1305.5 L1252.3,1308.4 L1253.1,1311.3 L1253.9,1314.2 L1254.7,1317.0 L1255.5,1319.9 L1256.4,1322.8 L1257.3,1325.6 L1258.2,1328.5 L1259.1,1331.3 L1260.1,1334.2 L1261.1,1337.0 L1262.1,1339.8 L1263.1,1342.6 L1264.2,1345.5 L1265.2,1348.3 L1266.3,1351.1 L1267.3,1353.9 L1268.4,1356.7 L1269.4,1359.5 L1270.4,1362.4 L1271.4,1365.2 L1272.3,1368.1 L1273.2,1371.0 L1274.1,1373.8 L1274.9,1376.7 L1275.8,1379.6 L1276.7,1382.5 L1277.5,1385.4 L1278.4,1388.2 L1279.3,1391.1 L1280.2,1393.9 L1281.1,1396.8 L1282.0,1399.6 L1283.0,1402.4 L1284.0,1405.3 L1285.0,1408.1 L1286.0,1410.9 L1287.0,1413.7 L1288.1,1416.5 L1289.2,1419.2 L1290.3,1422.0 L1291.5,1424.8 L1292.7,1427.6 L1293.9,1430.3 L1295.1,1433.1 L1296.4,1435.8 L1297.7,1438.6 L1299.0,1441.3 L1300.4,1444.0 L1301.9,1446.7 L1303.4,1449.3 L1305.0,1451.9 L1306.6,1454.4 L1308.3,1456.8 L1310.2,1459.2 L1312.1,1461.4 L1314.1,1463.6 L1316.2,1465.7 L1318.4,1467.7 L1320.7,1469.5 L1323.2,1471.2 L1325.7,1472.8 L1328.3,1474.2 L1331.0,1475.4 L1333.8,1476.5 L1336.7,1477.4 L1339.6,1478.1 L1342.5,1478.7 L1345.5,1479.0 L1348.6,1479.2 L1351.6,1479.2 L1354.7,1479.0 L1357.7,1479.0 L1360.7,1479.1 L1363.7,1479.2 L1366.7,1479.2 L1369.7,1479.3 L1372.7,1479.4 L1375.7,1479.4 L1378.7,1479.5 L1381.7,1479.5 L1384.7,1479.6 L1387.7,1479.6 L1390.7,1479.7 L1393.7,1479.7 L1396.7,1479.8 L1399.8,1479.8 L1402.8,1479.9 L1405.8,1479.9 L1408.8,1479.9 L1411.8,1480.0 L1414.8,1480.0 L1417.8,1480.0 L1420.8,1480.1 L1423.8,1480.1 L1426.8,1480.1 L1429.8,1480.2 L1432.8,1480.2 L1435.8,1480.2 L1438.8,1480.3 L1441.8,1480.3 L1444.8,1480.3 L1447.8,1480.3 L1450.8,1480.4 L1453.8,1480.4 L1456.8,1480.4 L1459.8,1480.4 L1462.8,1480.5 L1465.8,1480.5 L1468.8,1480.5 L1471.8,1480.5 L1474.8,1480.5 L1477.8,1480.6 L1480.8,1480.6 L1483.8,1480.6 L1486.8,1480.6 L1489.8,1480.6 L1492.9,1480.7 L1495.9,1480.7 L1498.9,1480.7 L1501.9,1480.7 L1504.9,1480.7 L1507.9,1480.8 L1510.9,1480.8 L1513.9,1480.8 L1516.9,1480.8 L1519.9,1480.9 L1522.9,1480.9 L1525.9,1480.9 L1528.9,1480.9 L1531.9,1480.9 L1534.9,1481.0 L1537.9,1481.0 L1540.9,1481.0 L1543.9,1481.0 L1546.9,1481.1 L1549.9,1481.1 L1552.9,1481.1 L1555.9,1481.1 L1558.9,1481.2 L1561.9,1481.2 L1564.9,1481.2 L1567.9,1481.2 L1570.9,1481.3 L1573.9,1481.3 L1576.9,1481.3 L1579.9,1481.4 L1583.0,1481.4 L1586.0,1481.4 L1589.0,1481.4 L1592.0,1481.5 L1595.0,1481.5 L1598.0,1481.5 L1601.0,1481.6 L1604.0,1481.6 L1607.0,1481.6 L1610.0,1481.7 L1613.0,1481.7 L1616.0,1481.7 L1619.0,1481.8 L1622.0,1481.8 L1625.0,1481.8 L1628.0,1481.9 L1631.0,1481.9 L1634.0,1481.9 L1637.0,1482.0 L1640.0,1482.0 L1643.0,1482.0 L1646.0,1482.1 L1649.0,1482.1 L1652.0,1482.2 L1655.0,1482.2 L1658.0,1482.2 L1661.0,1482.3 L1664.0,1482.3 L1667.0,1482.4 L1670.1,1482.4 L1673.1,1482.5 L1676.1,1482.5 L1679.1,1482.5 L1682.1,1482.6 L1685.1,1482.6 L1688.1,1482.7 L1691.1,1482.7 L1694.1,1482.8 L1697.1,1482.8 L1700.1,1482.9 L1703.1,1482.9 L1706.1,1483.0 L1709.1,1483.0 L1712.1,1483.1 L1715.1,1483.1 L1718.1,1483.2 L1721.1,1483.2 L1724.1,1483.2 L1727.1,1483.3 L1730.1,1483.3 L1733.1,1483.4 L1736.1,1483.4 L1739.1,1483.5 L1742.1,1483.5 L1745.1,1483.6 L1748.1,1483.6 L1751.1,1483.7 L1754.2,1483.7 L1757.2,1483.8 L1760.2,1483.8 L1763.2,1483.9 L1766.2,1483.9 L1769.2,1484.0 L1772.2,1484.0 L1775.2,1484.1 L1778.2,1484.1 L1781.2,1484.2 L1784.2,1484.2 L1787.2,1484.3 L1790.2,1484.3 L1793.2,1484.4 L1796.2,1484.4 L1799.2,1484.5 L1802.2,1484.5 L1805.2,1484.6 L1808.2,1484.6 L1811.2,1484.7 L1814.2,1484.7 L1817.2,1484.8 L1820.2,1484.8 L1823.2,1484.9 L1826.2,1484.9 L1829.2,1485.0 L1832.3,1485.0 L1835.3,1485.1 L1838.3,1485.1 L1841.3,1485.1 L1844.3,1485.2 L1847.3,1485.2 L1850.3,1485.3 L1853.3,1485.3 L1856.3,1485.4 L1859.3,1485.4 L1862.3,1485.5 L1865.3,1485.5 L1868.3,1485.5 L1871.3,1485.6 L1874.3,1485.6 L1877.3,1485.7 L1880.3,1485.7 L1883.3,1485.7 L1886.3,1485.8 L1889.3,1485.8 L1892.3,1485.8 L1895.3,1485.9 L1898.3,1485.9 L1901.3,1486.0 L1904.3,1486.0 L1907.3,1486.0 L1910.3,1486.1 L1913.4,1486.1 L1916.4,1486.1 L1919.4,1486.2 L1922.4,1486.2 L1925.4,1486.2 L1928.4,1486.2"/>
<path stroke="#000000" d="M470.7,295.5 L473.7,295.5 L476.7,295.5 L479.7,295.5 L482.7,295.5 L485.7,295.5 L488.7,295.5 L491.7,295.5 L494.7,295.5 L497.7,295.5 L500.7,295.5 L503.7,295.5 L506.7,295.5 L509.7,295.5 L512.7,295.5 L515.7,295.5 L518.7,295.5 L521.7,295.5 L524.7,295.5 L527.7,295.5 L530.7,295.5 L533.7,295.5 L536.7,295.5 L539.7,295.5 L542.7,295.5 L545.7,295.5 L548.7,295.5 L551.7,295.5 L554.7,295.5 L557.7,295.5 L560.7,295.5 L563.7,295.5 L566.7,295.5 L569.7,295.4 L572.7,295.4 L575.7,295.4 L578.7,295.4 L581.8,295.4 L584.8,295.4 L587.8,295.4 L590.8,295.4 L593.8,295.4 L596.8,295.4 L599.8,295.4 L602.8,295.4 L605.8,295.4 L608.8,295.4 L611.8,295.4 L614.8,295.4 L617.8,295.4 L620.8,295.4 L623.8,295.4 L626.8,295.4 L629.8,295.4 L632.8,295.4 L635.8,295.5 L638.8,295.5 L641.8,295.5 L644.8,295.6 L647.8,295.6 L650.7,295.6 L653.7,295.7 L656.7,295.7 L659.7,295.8 L662.7,295.8 L665.7,295.9 L668.7,295.9 L671.7,295.9 L674.8,296.0 L677.8,296.0 L680.8,296.1 L683.8,296.1 L686.8,296.2 L689.9,296.4 L692.9,296.5 L695.9,296.8 L699.0,297.1 L702.0,297.4 L704.9,298.0 L707.8,298.7 L710.6,299.5 L713.4,300.6 L716.1,301.8 L718.7,303.2 L721.2,304.8 L723.6,306.5 L725.9,308.3 L728.2,310.2 L730.3,312.3 L732.4,314.4 L734.4,316.7 L736.3,319.0 L738.1,321.3 L739.9,323.8 L741.6,326.2 L743.2,328.8 L744.8,331.3 L746.3,334.0 L747.8,336.6 L749.3,339.3 L750.7,341.9 L752.1,344.6 L753.5,347.3 L754.9,350.0 L756.2,352.7 L757.5,355.4 L758.9,358.1 L760.2,360.9 L761.4,363.6 L762.7,366.3 L764.0,369.0 L765.2,371.7 L766.4,374.5 L767.7,377.2 L768.9,380.0 L770.0,382.7 L771.2,385.5 L772.4,388.2 L773.5,391.0 L774.7,393.8 L775.8,396.5 L776.9,399.3 L778.0,402.1 L779.1,404.9 L780.1,407.7 L781.2,410.5 L782.3,413.3 L783.3,416.1 L784.3,418.9 L785.3,421.7 L786.3,424.6 L787.3,427.4 L788.3,430.2 L789.3,433.0 L790.3,435.9 L791.2,438.7 L792.2,441.6 L793.1,444.4 L794.0,447.3 L794.9,450.1 L795.8,453.0 L796.7,455.8 L797.6,458.7 L798.5,461.6 L799.3,464.5 L800.2,467.3 L801.0,470.2 L801.9,473.1 L802.7,476.0 L803.5,478.9 L804.4,481.8 L805.2,484.6 L806.0,487.5 L806.8,490.4 L807.5,493.3 L808.3,496.2 L809.1,499.1 L809.9,502.1 L810.6,505.0 L811.4,507.9 L812.1,510.8 L812.8,513.7 L813.6,516.6 L814.3,519.5 L815.0,522.5 L815.7,525.4 L816.4,528.3 L817.1,531.2 L817.8,534.2 L818.5,537.1 L819.2,540.0 L819.8,542.9 L820.5,545.9 L821.2,548.8 L821.8,551.7 L822.5,554.7 L823.2,557.6 L823.8,560.5 L824.5,563.5 L825.1,566.4 L825.7,569.3 L826.4,572.3 L827.0,575.2 L827.6,578.2 L828.2,581.1 L828.9,584.0 L829.5,587.0 L830.1,589.9 L830.7,592.8 L831.3,595.8 L831.9,598.7 L832.5,601.7 L833.1,604.6 L833.6,607.6 L834.2,610.5 L834.8,613.4 L835.4,616.4 L835.9,619.3 L836.5,622.3 L837.1,625.2 L837.6,628.2 L838.2,631.1 L838.7,634.1 L839.3,637.0 L839.8,640.0 L840.4,642.9 L840.9,645.9 L841.5,648.8 L842.0,651.8 L842.5,654.7 L843.0,657.7 L843.6,660.6 L844.1,663.6 L844.6,666.5 L845.1,669.5 L845.6,672.4 L846.1,675.4 L846.6,678.3 L847.1,681.3 L847.6,684.3 L848.1,687.2 L848.6,690.2 L849.1,693.1 L849.6,696.1 L850.1,699.0 L850.5,702.0 L851.0,705.0 L851.5,707.9 L852.0,710.9 L852.4,713.8 L852.9,716.8 L853.3,719.8 L853.8,722.7 L854.3,725.7 L854.7,728.7 L855.2,731.6 L855.6,734.6 L856.1,737.6 L856.5,740.5 L856.9,743.5 L857.4,746.5 L857.8,749.4 L858.2,752.4 L858.7,755.4 L859.1,758.3 L859.5,761.3 L860.0,764.3 L860.4,767.2 L860.8,770.2 L861.2,773.2 L861.6,776.1 L862.0,779.1 L862.4,782.1 L862.8,785.1 L863.2,788.0 L863.6,791.0 L864.0,794.0 L864.4,796.9 L864.8,799.9 L865.2,802.9 L865.6,805.9 L866.0,808.8 L866.4,811.8 L866.8,814.8 L867.2,817.8 L867.5,820.7 L867.9,823.7 L868.3,826.7 L868.7,829.7 L869.0,832.7 L869.4,835.6 L869.8,838.6 L870.1,841.6 L870.5,844.6 L870.9,847.5 L871.2,850.5 L871.6,853.5 L871.9,856.5 L872.3,859.5 L872.6,862.4 L873.0,865.4 L873.3,868.4 L873.7,871.4 L874.0,874.4 L874.4,877.4 L874.7,880.3 L875.0,883.3 L875.4,886.3 L875.7,889.3 L876.0,892.3 L876.4,895.3 L876.7,898.2 L877.0,901.2 L877.4,904.2 L877.7,907.2 L878.0,910.2 L878.3,913.2 L878.6,916.1 L879.0,919.1 L879.3,922.1 L879.6,925.1 L879.9,928.1 L880.2,931.1 L880.5,934.1 L880.8,937.0 L881.1,940.0 L881.4,943.0 L881.7,946.0 L882.1,949.0 L882.4,952.0 L882.7,955.0 L882.9,958.0 L883.2,961.0 L883.5,963.9 L883.8,966.9 L884.1,969.9 L884.4,972.9 L884.7,975.9 L885.0,978.9 L885.3,981.9 L885.6,984.9 L885.9,987.9 L886.1,990.8 L886.4,993.8 L886.7,996.8 L887.0,999.8 L887.3,1002.8 L887.5,1005.8 L887.8,1008.8 L888.1,1011.8 L888.4,1014.8 L888.7,1017.8 L888.9,1020.8 L889.2,1023.7 L889.5,1026.7 L889.7,1029.7 L890.0,1032.7 L890.3,1035.7 L890.5,1038.7 L890.8,1041.7 L891.1,1044.7 L891.3,1047.7 L891.6,1050.7 L891.9,1053.7 L892.1,1056.6 L892.4,1059.6 L892.6,1062.6 L892.9,1065.6 L893.2,1068.6 L893.4,1071.6 L893.7,1074.6 L893.9,1077.6 L894.2,1080.6 L894.5,1083.6 L894.7,1086.6 L895.0,1089.6 L895.2,1092.5 L895.5,1095.5 L895.7,1098.5 L896.0,1101.5 L896.2,1104.5 L896.5,1107.5 L896.7,1110.5 L897.0,1113.5 L897.2,1116.5 L897.5,1119.5 L897.7,1122.5 L898.0,1125.5 L898.2,1128.4 L898.4,1131.4 L898.7,1134.4 L898.9,1137.4 L899.2,1140.4 L899.4,1143.4 L899.7,1146.4 L899.9,1149.4 L900.2,1152.4 L900.4,1155.4 L900.6,1158.4 L900.9,1161.4 L901.1,1164.3 L901.4,1167.3 L901.6,1170.3 L901.9,1173.3 L902.1,1176.3 L902.3,1179.3 L902.6,1182.3 L902.8,1185.3 L903.1,1188.3 L903.3,1191.3 L903.5,1194.2 L903.8,1197.2 L904.0,1200.2 L904.2,1203.2 L904.5,1206.2 L904.7,1209.2 L905.0,1212.2 L905.2,1215.2 L905.4,1218.2 L905.7,1221.2 L905.9,1224.2 L906.1,1227.1 L906.4,1230.1 L906.6,1233.1 L906.9,1236.1 L907.1,1239.1 L907.3,1242.1 L907.6,1245.1 L907.8,1248.1 L908.0,1251.1 L908.3,1254.1 L908.5,1257.1 L908.7,1260.0 L909.0,1263.0 L909.2,1266.0 L909.4,1269.0 L909.7,1272.0 L909.9,1275.0 L910.1,1278.0 L910.4,1281.0 L910.6,1284.0 L910.8,1287.0 L911.1,1290.0 L911.3,1293.0 L911.5,1295.9 L911.8,1298.9 L912.0,1301.9 L912.3,1304.9 L912.5,1307.9 L912.7,1310.9 L913.0,1313.9 L913.2,1316.9 L913.4,1319.9 L913.7,1322.9 L913.9,1325.9 L914.1,1328.9 L914.4,1331.9 L914.6,1334.8 L914.8,1337.8 L915.1,1340.8 L915.3,1343.8 L915.5,1346.8 L915.8,1349.8 L916.0,1352.8 L916.2,1355.8 L916.5,1358.8 L916.7,1361.8 L917.0,1364.8 L917.2,1367.8 L917.4,1370.8 L917.7,1373.8 L917.9,1376.8 L918.1,1379.8 L918.4,1382.7 L918.6,1385.7 L918.8,1388.7 L919.0,1391.7 L919.3,1394.7 L919.5,1397.7 L919.7,1400.7 L920.0,1403.7 L920.2,1406.7 L920.4,1409.7 L920.6,1412.7 L920.9,1415.7 L921.1,1418.7 L921.3,1421.6 L921.5,1424.6 L921.8,1427.6 L922.0,1430.6 L922.2,1433.6 L922.4,1436.6 L922.6,1439.6 L922.9,1442.6 L923.2,1445.6 L923.4,1448.6 L923.8,1451.6 L924.1,1454.5 L924.5,1457.5 L924.9,1460.5 L925.4,1463.5 L926.0,1466.5 L926.6,1469.5 L927.3,1472.5 L928.0,1475.4 L928.9,1478.3 L930.0,1481.1 L931.2,1483.7 L932.8,1486.1 L934.5,1488.2 L936.6,1490.1 L939.1,1491.6 L941.9,1492.8 L945.1,1493.5 L948.1,1493.5 L951.1,1493.5 L954.1,1493.5 L957.2,1493.5 L960.2,1493.5 L963.2,1493.5 L966.2,1493.5 L969.2,1493.5 L972.2,1493.5 L975.2,1493.5 L978.2,1493.5 L981.2,1493.5 L984.2,1493.5 L987.2,1493.5 L990.2,1493.5 L993.2,1493.5 L996.2,1493.5 L999.2,1493.5 L1002.2,1493.5 L1005.2,1493.5 L1008.3,1493.5 L1011.3,1493.5 L1014.3,1493.5 L1017.3,1493.5 L1020.3,1493.5 L1023.3,1493.5 L1026.3,1493.5 L1029.3,1493.5 L1032.3,1493.5 L1035.3,1493.5 L1038.3,1493.5 L1041.3,1493.5 L1044.3,1493.5 L1047.3,1493.5 L1050.3,1493.5 L1053.3,1493.5 L1056.3,1493.5 L1059.3,1493.5 L1062.4,1493.5 L1065.4,1493.5 L1068.4,1493.5 L1071.4,1493.5 L1074.4,1493.5 L1077.4,1493.5 L1080.4,1493.5 L1083.4,1493.5 L1086.4,1493.5 L1089.4,1493.5 L1092.4,1493.5 L1095.4,1493.5 L1098.4,1493.5 L1101.4,1493.5 L1104.4,1493.5 L1107.4,1493.5 L1110.4,1493.5 L1113.5,1493.5 L1116.5,1493.5 L1119.5,1493.5 L1122.5,1493.5 L1125.5,1493.5 L1128.5,1493.5 L1131.5,1493.5 L1134.5,1493.5 L1137.5,1493.5 L1140.5,1493.5 L1143.5,1493.5 L1146.5,1493.5 L1149.5,1493.5 L1152.5,1493.5 L1155.5,1493.5 L1158.5,1493.5 L1161.5,1493.5 L1164.5,1493.5 L1167.6,1493.5 L1170.6,1493.5 L1173.6,1493.5 L1176.6,1493.5 L1179.6,1493.5 L1182.6,1493.5 L1185.6,1493.5 L1188.6,1493.5 L1191.6,1493.5 L1194.6,1493.5 L1197.6,1493.5 L1200.6,1493.5 L1203.6,1493.5 L1206.6,1493.5 L1209.6,1493.5 L1212.6,1493.5 L1215.6,1493.5 L1218.7,1493.5 L1221.7,1493.5 L1224.7,1493.5 L1227.7,1493.5 L1230.7,1493.5 L1233.7,1493.5 L1236.7,1493.5 L1239.7,1493.5 L1242.7,1493.5 L1245.7,1493.5 L1248.7,1493.5 L1251.7,1493.5 L1254.7,1493.5 L1257.7,1493.5 L1260.7,1493.5 L1263.7,1493.5 L1266.7,1493.5 L1269.7,1493.5 L1272.8,1493.5 L1275.8,1493.5 L1278.8,1493.5 L1281.8,1493.5 L1284.8,1493.5 L1287.8,1493.5 L1290.8,1493.5 L1293.8,1493.5 L1296.8,1493.5 L1299.8,1493.5 L1302.8,1493.5 L1305.8,1493.5 L1308.8,1493.5 L1311.8,1493.5 L1314.8,1493.5 L1317.8,1493.5 L1320.8,1493.5 L1323.9,1493.5 L1326.9,1493.5 L1329.9,1493.5 L1332.9,1493.5 L1335.9,1493.5 L1338.9,1493.5 L1341.9,1493.5 L1344.9,1493.5 L1347.9,1493.5 L1350.9,1493.5 L1353.9,1493.5 L1356.9,1493.5 L1359.9,1493.5 L1362.9,1493.5 L1365.9,1493.5 L1368.9,1493.5 L1371.9,1493.5 L1375.0,1493.5 L1378.0,1493.5 L1381.0,1493.5 L1384.0,1493.5 L1387.0,1493.5 L1390.0,1493.5 L1393.0,1493.5 L1396.0,1493.5 L1399.0,1493.5 L1402.0,1493.5 L1405.0,1493.5 L1408.0,1493.5 L1411.0,1493.5 L1414.0,1493.5 L1417.0,1493.5 L1420.0,1493.5 L1423.0,1493.5 L1426.0,1493.5 L1429.1,1493.5 L1432.1,1493.5 L1435.1,1493.5 L1438.1,1493.5 L1441.1,1493.5 L1444.1,1493.5 L1447.1,1493.5 L1450.1,1493.5 L1453.1,1493.5 L1456.1,1493.5 L1459.1,1493.5 L1462.1,1493.5 L1465.1,1493.5 L1468.1,1493.5 L1471.1,1493.5 L1474.1,1493.5 L1477.1,1493.5 L1480.2,1493.5 L1483.2,1493.5 L1486.2,1493.5 L1489.2,1493.5 L1492.2,1493.5 L1495.2,1493.5 L1498.2,1493.5 L1501.2,1493.5 L1504.2,1493.5 L1507.2,1493.5 L1510.2,1493.5 L1513.2,1493.5 L1516.2,1493.5 L1519.2,1493.5 L1522.2,1493.5 L1525.2,1493.5 L1528.2,1493.5 L1531.2,1493.5 L1534.3,1493.5 L1537.3,1493.5 L1540.3,1493.5 L1543.3,1493.5 L1546.3,1493.5 L1549.3,1493.5 L1552.3,1493.5 L1555.3,1493.5 L1558.3,1493.5 L1561.3,1493.5 L1564.3,1493.5 L1567.3,1493.5 L1570.3,1493.5 L1573.3,1493.5 L1576.3,1493.5 L1579.3,1493.5 L1582.3,1493.5 L1585.4,1493.5 L1588.4,1493.5 L1591.4,1493.5 L1594.4,1493.5 L1597.4,1493.5 L1600.4,1493.5 L1603.4,1493.5 L1606.4,1493.5 L1609.4,1493.5 L1612.4,1493.5 L1615.4,1493.5 L1618.4,1493.5 L1621.4,1493.5 L1624.4,1493.5 L1627.4,1493.5 L1630.4,1493.5 L1633.4,1493.5 L1636.4,1493.5 L1639.5,1493.5 L1642.5,1493.5 L1645.5,1493.5 L1648.5,1493.5 L1651.5,1493.5 L1654.5,1493.5 L1657.5,1493.5 L1660.5,1493.5 L1663.5,1493.5 L1666.5,1493.5 L1669.5,1493.5 L1672.5,1493.5 L1675.5,1493.5 L1678.5,1493.5 L1681.5,1493.5 L1684.5,1493.5 L1687.5,1493.5 L1690.6,1493.5 L1693.6,1493.5 L1696.6,1493.5 L1699.6,1493.5 L1702.6,1493.5 L1705.6,1493.5 L1708.6,1493.5 L1711.6,1493.5 L1714.6,1493.5 L1717.6,1493.5 L1720.6,1493.5 L1723.6,1493.5 L1726.6,1493.5 L1729.6,1493.5 L1732.6,1493.5 L1735.6,1493.5 L1738.6,1493.5 L1741.7,1493.5 L1744.7,1493.5 L1747.7,1493.5 L1750.7,1493.5 L1753.7,1493.5 L1756.7,1493.5 L1759.7,1493.5 L1762.7,1493.5 L1765.7,1493.5 L1768.7,1493.5 L1771.7,1493.5 L1774.7,1493.5 L1777.7,1493.5 L1780.7,1493.5 L1783.7,1493.5 L1786.7,1493.5 L1789.7,1493.5 L1792.7,1493.5 L1795.8,1493.5 L1798.8,1493.5 L1801.8,1493.5 L1804.8,1493.5 L1807.8,1493.5 L1810.8,1493.5 L1813.8,1493.5 L1816.8,1493.5 L1819.8,1493.5 L1822.8,1493.5 L1825.8,1493.5 L1828.8,1493.5 L1831.8,1493.5 L1834.8,1493.5 L1837.8,1493.5 L1840.8,1493.5 L1843.8,1493.5 L1846.9,1493.5 L1849.9,1493.5 L1852.9,1493.5 L1855.9,1493.5 L1858.9,1493.5 L1861.9,1493.5 L1864.9,1493.5 L1867.9,1493.5 L1870.9,1493.5 L1873.9,1493.5 L1876.9,1493.5 L1879.9,1493.5 L1882.9,1493.5 L1885.9,1493.5 L1888.9,1493.5 L1891.9,1493.5 L1894.9,1493.5 L1897.9,1493.5 L1901.0,1493.5 L1904.0,1493.5 L1907.0,1493.5 L1910.0,1493.5 L1913.0,1493.5 L1916.0,1493.5 L1919.0,1493.5 L1922.0,1493.5 L1925.0,1493.5"/>
<path stroke="#00ffff" d="M470.7,295.5 L473.7,295.5 L476.7,295.4 L479.7,295.4 L482.7,295.3 L485.7,295.3 L488.7,295.2 L491.7,295.2 L494.7,295.2 L497.7,295.1 L500.7,295.1 L503.7,295.0 L506.7,295.0 L509.7,294.9 L512.7,294.9 L515.7,294.9 L518.7,294.8 L521.7,294.8 L524.7,294.8 L527.7,294.7 L530.7,294.7 L533.7,294.7 L536.7,294.6 L539.7,294.6 L542.7,294.6 L545.7,294.5 L548.7,294.5 L551.7,294.5 L554.7,294.4 L557.7,294.4 L560.7,294.4 L563.7,294.4 L566.7,294.3 L569.7,294.3 L572.7,294.3 L575.7,294.2 L578.7,294.2 L581.7,294.2 L584.7,294.2 L587.7,294.1 L590.7,294.1 L593.7,294.1 L596.7,294.1 L599.7,294.1 L602.7,294.0 L605.8,294.0 L608.8,294.0 L611.8,294.0 L614.8,293.9 L617.8,293.9 L620.8,293.9 L623.8,293.9 L626.8,293.8 L629.8,293.8 L632.8,293.8 L635.8,293.8 L638.8,293.8 L641.8,293.7 L644.8,293.7 L647.8,293.7 L650.8,293.7 L653.8,293.6 L656.8,293.6 L659.8,293.6 L662.8,293.6 L665.8,293.6 L668.8,293.5 L671.8,293.5 L674.8,293.5 L677.8,293.5 L680.8,293.4 L683.8,293.4 L686.8,293.4 L689.8,293.4 L692.8,293.3 L695.8,293.3 L698.8,293.3 L701.8,293.3 L704.8,293.3 L707.8,293.2 L710.8,293.2 L713.8,293.2 L716.8,293.2 L719.8,293.2 L722.8,293.2 L725.8,293.2 L728.8,293.3 L731.8,293.3 L734.9,293.3 L737.9,293.4 L740.9,293.4 L743.8,293.5 L746.8,293.6 L749.8,293.6 L752.8,293.7 L755.8,293.8 L758.8,294.0 L761.8,294.1 L764.8,294.2 L767.8,294.4 L770.8,294.6 L773.8,294.7 L776.8,294.9 L779.8,295.1 L782.8,295.4 L785.8,295.6 L788.8,295.9 L791.7,296.2 L794.7,296.5 L797.7,296.8 L800.7,297.1 L803.7,297.4 L806.7,297.8 L809.6,298.2 L812.6,298.5 L815.6,298.9 L818.6,299.3 L821.6,299.8 L824.5,300.2 L827.5,300.6 L830.5,301.0 L833.5,301.5 L836.4,301.9 L839.4,302.4 L842.4,302.8 L845.4,303.3 L848.3,303.7 L851.3,304.2 L854.2,304.7 L857.2,305.3 L860.1,305.8 L863.1,306.4 L866.0,307.0 L868.9,307.7 L871.8,308.4 L874.7,309.2 L877.6,310.0 L880.4,310.9 L883.3,311.8 L886.1,312.8 L888.9,313.8 L891.7,314.9 L894.5,316.1 L897.2,317.4 L899.9,318.7 L902.6,320.1 L905.2,321.6 L907.8,323.1 L910.4,324.6 L912.9,326.3 L915.4,328.0 L917.9,329.7 L920.3,331.5 L922.6,333.4 L925.0,335.3 L927.2,337.3 L929.4,339.3 L931.5,341.4 L933.6,343.5 L935.7,345.6 L937.7,347.8 L939.7,350.1 L941.6,352.4 L943.5,354.7 L945.3,357.1 L947.1,359.5 L948.9,361.9 L950.7,364.3 L952.4,366.8 L954.1,369.3 L955.8,371.8 L957.5,374.3 L959.1,376.8 L960.8,379.3 L962.4,381.8 L964.0,384.4 L965.6,386.9 L967.2,389.5 L968.7,392.0 L970.3,394.6 L971.8,397.2 L973.2,399.8 L974.7,402.4 L976.1,405.1 L977.5,407.7 L978.8,410.4 L980.1,413.1 L981.4,415.8 L982.7,418.5 L983.9,421.2 L985.1,424.0 L986.3,426.7 L987.4,429.5 L988.6,432.3 L989.7,435.1 L990.7,437.9 L991.8,440.7 L992.8,443.5 L993.9,446.3 L994.9,449.2 L995.8,452.0 L996.8,454.9 L997.8,457.7 L998.7,460.6 L999.7,463.4 L1000.6,466.3 L1001.5,469.2 L1002.4,472.0 L1003.3,474.9 L1004.2,477.8 L1005.1,480.6 L1005.9,483.5 L1006.8,486.4 L1007.6,489.3 L1008.5,492.2 L1009.3,495.0 L1010.1,497.9 L1010.9,500.8 L1011.7,503.7 L1012.5,506.6 L1013.3,509.5 L1014.1,512.4 L1014.9,515.3 L1015.6,518.2 L1016.4,521.1 L1017.1,524.0 L1017.9,526.9 L1018.6,529.8 L1019.3,532.7 L1020.0,535.6 L1020.7,538.6 L1021.5,541.5 L1022.2,544.4 L1022.8,547.3 L1023.5,550.2 L1024.2,553.1 L1024.9,556.1 L1025.6,559.0 L1026.2,561.9 L1026.9,564.8 L1027.5,567.8 L1028.2,570.7 L1028.8,573.6 L1029.5,576.6 L1030.1,579.5 L1030.7,582.4 L1031.3,585.4 L1032.0,588.3 L1032.6,591.2 L1033.2,594.2 L1033.8,597.1 L1034.4,600.1 L1035.0,603.0 L1035.6,605.9 L1036.2,608.9 L1036.8,611.8 L1037.4,614.8 L1038.0,617.7 L1038.5,620.7 L1039.1,623.6 L1039.7,626.6 L1040.3,629.5 L1040.8,632.5 L1041.4,635.4 L1042.0,638.3 L1042.5,641.3 L1043.1,644.2 L1043.7,647.2 L1044.2,650.1 L1044.8,653.1 L1045.4,656.0 L1045.9,659.0 L1046.5,661.9 L1047.0,664.9 L1047.6,667.8 L1048.1,670.8 L1048.7,673.7 L1049.2,676.7 L1049.7,679.7 L1050.3,682.6 L1050.8,685.6 L1051.3,688.5 L1051.9,691.5 L1052.4,694.4 L1052.9,697.4 L1053.5,700.3 L1054.0,703.3 L1054.5,706.2 L1055.0,709.2 L1055.5,712.2 L1056.1,715.1 L1056.6,718.1 L1057.1,721.0 L1057.6,724.0 L1058.1,727.0 L1058.6,729.9 L1059.1,732.9 L1059.6,735.8 L1060.1,738.8 L1060.6,741.8 L1061.1,744.7 L1061.5,747.7 L1062.0,750.6 L1062.5,753.6 L1063.0,756.6 L1063.5,759.5 L1063.9,762.5 L1064.4,765.5 L1064.9,768.4 L1065.3,771.4 L1065.8,774.4 L1066.3,777.3 L1066.7,780.3 L1067.2,783.3 L1067.6,786.2 L1068.1,789.2 L1068.5,792.2 L1069.0,795.1 L1069.4,798.1 L1069.8,801.1 L1070.3,804.0 L1070.7,807.0 L1071.1,810.0 L1071.6,812.9 L1072.0,815.9 L1072.4,818.9 L1072.8,821.9 L1073.2,824.8 L1073.6,827.8 L1074.0,830.8 L1074.4,833.8 L1074.8,836.7 L1075.2,839.7 L1075.6,842.7 L1076.0,845.7 L1076.4,848.6 L1076.8,851.6 L1077.2,854.6 L1077.6,857.6 L1077.9,860.5 L1078.3,863.5 L1078.7,866.5 L1079.0,869.5 L1079.4,872.5 L1079.8,875.4 L1080.1,878.4 L1080.5,881.4 L1080.8,884.4 L1081.2,887.4 L1081.5,890.3 L1081.9,893.3 L1082.2,896.3 L1082.6,899.3 L1082.9,902.3 L1083.2,905.2 L1083.6,908.2 L1083.9,911.2 L1084.2,914.2 L1084.6,917.2 L1084.9,920.2 L1085.2,923.1 L1085.5,926.1 L1085.8,929.1 L1086.2,932.1 L1086.5,935.1 L1086.8,938.1 L1087.1,941.1 L1087.4,944.0 L1087.7,947.0 L1088.0,950.0 L1088.3,953.0 L1088.6,956.0 L1089.0,959.0 L1089.3,962.0 L1089.6,964.9 L1089.9,967.9 L1090.2,970.9 L1090.5,973.9 L1090.8,976.9 L1091.1,979.9 L1091.3,982.9 L1091.6,985.9 L1091.9,988.8 L1092.2,991.8 L1092.5,994.8 L1092.8,997.8 L1093.1,1000.8 L1093.4,1003.8 L1093.7,1006.8 L1094.0,1009.8 L1094.3,1012.7 L1094.6,1015.7 L1094.9,1018.7 L1095.2,1021.7 L1095.4,1024.7 L1095.7,1027.7 L1096.0,1030.7 L1096.3,1033.7 L1096.6,1036.6 L1096.9,1039.6 L1097.2,1042.6 L1097.5,1045.6 L1097.8,1048.6 L1098.1,1051.6 L1098.4,1054.6 L1098.7,1057.6 L1098.9,1060.5 L1099.2,1063.5 L1099.5,1066.5 L1099.8,1069.5 L1100.1,1072.5 L1100.4,1075.5 L1100.7,1078.5 L1101.0,1081.5 L1101.3,1084.4 L1101.6,1087.4 L1101.9,1090.4 L1102.2,1093.4 L1102.5,1096.4 L1102.8,1099.4 L1103.1,1102.4 L1103.4,1105.3 L1103.7,1108.3 L1104.0,1111.3 L1104.3,1114.3 L1104.6,1117.3 L1104.9,1120.3 L1105.2,1123.3 L1105.5,1126.2 L1105.8,1129.2 L1106.1,1132.2 L1106.4,1135.2 L1106.7,1138.2 L1107.0,1141.2 L1107.3,1144.2 L1107.6,1147.1 L1107.9,1150.1 L1108.2,1153.1 L1108.5,1156.1 L1108.8,1159.1 L1109.1,1162.1 L1109.4,1165.1 L1109.7,1168.0 L1110.0,1171.0 L1110.3,1174.0 L1110.6,1177.0 L1110.9,1180.0 L1111.1,1183.0 L1111.4,1186.0 L1111.7,1189.0 L1112.0,1191.9 L1112.3,1194.9 L1112.6,1197.9 L1112.9,1200.9 L1113.1,1203.9 L1113.4,1206.9 L1113.7,1209.9 L1114.0,1212.9 L1114.2,1215.8 L1114.5,1218.8 L1114.8,1221.8 L1115.1,1224.8 L1115.3,1227.8 L1115.6,1230.8 L1115.9,1233.8 L1116.1,1236.8 L1116.4,1239.8 L1116.6,1242.8 L1116.9,1245.7 L1117.2,1248.7 L1117.4,1251.7 L1117.7,1254.7 L1117.9,1257.7 L1118.1,1260.7 L1118.4,1263.7 L1118.6,1266.7 L1118.9,1269.7 L1119.1,1272.7 L1119.3,1275.7 L1119.6,1278.7 L1119.8,1281.7 L1120.0,1284.6 L1120.3,1287.6 L1120.5,1290.6 L1120.7,1293.6 L1120.9,1296.6 L1121.1,1299.6 L1121.4,1302.6 L1121.6,1305.6 L1121.8,1308.6 L1122.0,1311.6 L1122.2,1314.6 L1122.4,1317.6 L1122.6,1320.6 L1122.8,1323.6 L1123.0,1326.6 L1123.2,1329.6 L1123.4,1332.6 L1123.6,1335.6 L1123.8,1338.6 L1124.0,1341.6 L1124.2,1344.6 L1124.4,1347.6 L1124.6,1350.6 L1124.8,1353.6 L1125.0,1356.6 L1125.2,1359.5 L1125.4,1362.5 L1125.6,1365.5 L1125.8,1368.5 L1126.0,1371.5 L1126.3,1374.5 L1126.5,1377.5 L1126.7,1380.5 L1126.9,1383.5 L1127.1,1386.5 L1127.4,1389.5 L1127.6,1392.5 L1127.8,1395.4 L1128.0,1398.4 L1128.3,1401.4 L1128.5,1404.4 L1128.8,1407.4 L1129.0,1410.4 L1129.3,1413.4 L1129.5,1416.3 L1129.8,1419.3 L1130.1,1422.3 L1130.3,1425.3 L1130.6,1428.3 L1130.8,1431.3 L1131.1,1434.3 L1131.4,1437.2 L1131.6,1440.2 L1131.9,1443.2 L1132.1,1446.2 L1132.3,1449.3 L1132.6,1452.3 L1132.8,1455.3 L1133.0,1458.3 L1133.2,1461.3 L1133.5,1464.4 L1133.7,1467.4 L1134.0,1470.4 L1134.3,1473.4 L1134.8,1476.3 L1135.4,1479.2 L1136.1,1482.0 L1137.0,1484.8 L1138.1,1487.5 L1139.5,1490.0 L1141.1,1492.5 L1144.1,1492.5 L1147.0,1492.5 L1150.0,1492.5 L1152.9,1492.5 L1155.9,1492.5 L1158.9,1492.5 L1161.8,1492.5 L1164.8,1492.5 L1167.8,1492.5 L1170.7,1492.5 L1173.7,1492.5 L1176.7,1492.5 L1179.7,1492.5 L1182.6,1492.5 L1185.6,1492.5 L1188.6,1492.5 L1191.5,1492.5 L1194.5,1492.5 L1197.5,1492.5 L1200.5,1492.5 L1203.4,1492.5 L1206.4,1492.5 L1209.4,1492.5 L1212.4,1492.5 L1215.3,1492.5 L1218.3,1492.5 L1221.3,1492.5 L1224.3,1492.5 L1227.3,1492.5 L1230.2,1492.5 L1233.2,1492.5 L1236.2,1492.5 L1239.2,1492.5 L1242.2,1492.5 L1245.2,1492.5 L1248.1,1492.5 L1251.1,1492.5 L1254.1,1492.5 L1257.1,1492.5 L1260.1,1492.5 L1263.1,1492.5 L1266.1,1492.5 L1269.0,1492.5 L1272.0,1492.5 L1275.0,1492.5 L1278.0,1492.5 L1281.0,1492.5 L1284.0,1492.5 L1287.0,1492.5 L1290.0,1492.5 L1293.0,1492.5 L1296.0,1492.5 L1298.9,1492.5 L1301.9,1492.5 L1304.9,1492.5 L1307.9,1492.5 L1310.9,1492.5 L1313.9,1492.5 L1316.9,1492.5 L1319.9,1492.5 L1322.9,1492.5 L1325.9,1492.5 L1328.9,1492.5 L1331.9,1492.5 L1334.9,1492.5 L1337.9,1492.5 L1340.9,1492.5 L1343.9,1492.5 L1346.9,1492.5 L1349.9,1492.5 L1352.9,1492.5 L1355.9,1492.6 L1358.9,1492.6 L1361.9,1492.6 L1364.9,1492.6 L1367.9,1492.6 L1370.9,1492.6 L1373.9,1492.6 L1376.9,1492.6 L1379.9,1492.6 L1382.9,1492.6 L1385.9,1492.6 L1388.9,1492.6 L1391.9,1492.6 L1394.9,1492.6 L1397.9,1492.6 L1400.9,1492.6 L1403.9,1492.6 L1406.9,1492.6 L1410.0,1492.6 L1413.0,1492.6 L1416.0,1492.6 L1419.0,1492.6 L1422.0,1492.6 L1425.0,1492.6 L1428.0,1492.6 L1431.0,1492.6 L1434.0,1492.6 L1437.0,1492.6 L1440.0,1492.6 L1443.0,1492.6 L1446.1,1492.6 L1449.1,1492.6 L1452.1,1492.6 L1455.1,1492.6 L1458.1,1492.6 L1461.1,1492.6 L1464.1,1492.6 L1467.1,1492.6 L1470.1,1492.6 L1473.2,1492.6 L1476.2,1492.6 L1479.2,1492.6 L1482.2,1492.6 L1485.2,1492.6 L1488.2,1492.6 L1491.2,1492.6 L1494.2,1492.6 L1497.3,1492.6 L1500.3,1492.6 L1503.3,1492.6 L1506.3,1492.6 L1509.3,1492.6 L1512.3,1492.6 L1515.3,1492.6 L1518.4,1492.6 L1521.4,1492.6 L1524.4,1492.6 L1527.4,1492.6 L1530.4,1492.6 L1533.4,1492.6 L1536.5,1492.6 L1539.5,1492.6 L1542.5,1492.6 L1545.5,1492.6 L1548.5,1492.6 L1551.5,1492.6 L1554.6,1492.6 L1557.6,1492.6 L1560.6,1492.6 L1563.6,1492.6 L1566.6,1492.6 L1569.6,1492.6 L1572.7,1492.6 L1575.7,1492.6 L1578.7,1492.6 L1581.7,1492.6 L1584.7,1492.6 L1587.7,1492.6 L1590.8,1492.6 L1593.8,1492.6 L1596.8,1492.6 L1599.8,1492.6 L1602.8,1492.6 L1605.8,1492.6 L1608.9,1492.6 L1611.9,1492.6 L1614.9,1492.6 L1617.9,1492.6 L1620.9,1492.6 L1623.9,1492.6 L1627.0,1492.6 L1630.0,1492.6 L1633.0,1492.6 L1636.0,1492.6 L1639.0,1492.6 L1642.1,1492.6 L1645.1,1492.6 L1648.1,1492.6 L1651.1,1492.6 L1654.1,1492.6 L1657.1,1492.6 L1660.2,1492.6 L1663.2,1492.6 L1666.2,1492.6 L1669.2,1492.6 L1672.2,1492.6 L1675.2,1492.6 L1678.3,1492.6 L1681.3,1492.6 L1684.3,1492.6 L1687.3,1492.6 L1690.3,1492.6 L1693.3,1492.6 L1696.4,1492.6 L1699.4,1492.6 L1702.4,1492.6 L1705.4,1492.6 L1708.4,1492.6 L1711.4,1492.6 L1714.5,1492.6 L1717.5,1492.6 L1720.5,1492.6 L1723.5,1492.6 L1726.5,1492.6 L1729.5,1492.6 L1732.6,1492.6 L1735.6,1492.6 L1738.6,1492.6 L1741.6,1492.6 L1744.6,1492.6 L1747.6,1492.6 L1750.6,1492.6 L1753.7,1492.6 L1756.7,1492.6 L1759.7,1492.6 L1762.7,1492.6 L1765.7,1492.6 L1768.7,1492.6 L1771.7,1492.6 L1774.7,1492.6 L1777.8,1492.6 L1780.8,1492.6 L1783.8,1492.6 L1786.8,1492.6 L1789.8,1492.6 L1792.8,1492.6 L1795.8,1492.6 L1798.8,1492.6 L1801.8,1492.7 L1804.9,1492.7 L1807.9,1492.7 L1810.9,1492.7 L1813.9,1492.7 L1816.9,1492.7 L1819.9,1492.7 L1822.9,1492.7 L1825.9,1492.7 L1828.9,1492.7 L1831.9,1492.7 L1834.9,1492.7 L1838.0,1492.7 L1841.0,1492.7 L1844.0,1492.7 L1847.0,1492.7 L1850.0,1492.7 L1853.0,1492.7 L1856.0,1492.7 L1859.0,1492.7 L1862.0,1492.7 L1865.0,1492.7 L1868.0,1492.7 L1871.0,1492.7 L1874.0,1492.7 L1877.0,1492.7 L1880.0,1492.7 L1883.0,1492.7 L1886.0,1492.7 L1889.0,1492.7 L1892.0,1492.7 L1895.0,1492.7 L1898.0,1492.7 L1901.0,1492.7 L1904.0,1492.7 L1907.0,1492.7 L1910.0,1492.7 L1913.0,1492.7 L1916.0,1492.7 L1919.0,1492.7 L1922.0,1492.7 L1925.0,1492.7 L1928.0,1492.7 L1931.0,1492.7"/>
<path stroke="#ff0080" stroke-linejoin="miter" stroke-miterlimit="2" d="M470.7,295.5 L473.7,295.5 L476.8,295.6 L479.8,295.7 L482.8,295.9 L485.9,296.0 L488.9,296.3 L491.8,296.6 L494.8,296.9 L497.8,297.2 L500.8,297.6 L503.8,298.0 L506.7,298.4 L509.7,298.9 L512.7,299.4 L515.7,299.8 L518.6,300.4 L521.6,300.9 L524.6,301.4 L527.6,301.9 L530.6,302.5 L533.6,303.0 L536.5,303.6 L539.5,304.2 L542.5,304.8 L545.5,305.5 L548.4,306.2 L551.4,306.9 L554.3,307.7 L557.2,308.6 L560.1,309.5 L562.9,310.4 L565.7,311.5 L568.5,312.6 L571.3,313.8 L574.0,315.0 L576.7,316.3 L579.4,317.7 L582.0,319.1 L584.7,320.5 L587.3,322.0 L589.9,323.6 L592.5,325.1 L595.1,326.7 L597.7,328.3 L600.3,329.9 L602.9,331.5 L605.4,333.1 L608.0,334.7 L610.6,336.2 L613.2,337.8 L615.8,339.3 L618.4,340.8 L621.1,342.3 L623.7,343.7 L626.4,345.1 L629.1,346.4 L631.9,347.7 L634.6,348.9 L637.4,350.1 L640.2,351.2 L643.0,352.3 L645.8,353.4 L648.6,354.4 L651.4,355.4 L654.3,356.4 L657.2,357.4 L660.0,358.4 L662.9,359.3 L665.8,360.2 L668.7,361.2 L671.5,362.1 L674.4,363.0 L677.3,364.0 L680.1,365.0 L682.9,366.1 L685.7,367.2 L688.5,368.4 L691.2,369.7 L693.8,371.1 L696.4,372.6 L698.9,374.3 L701.4,376.0 L703.8,377.8 L706.2,379.7 L708.5,381.7 L710.8,383.7 L713.0,385.8 L715.3,387.8 L717.5,389.9 L719.7,392.0 L721.8,394.1 L724.0,396.2 L726.2,398.4 L728.3,400.5 L730.5,402.6 L732.7,404.6 L735.0,406.6 L737.3,408.5 L739.8,410.2 L742.3,411.8 L744.9,413.2 L747.6,414.5 L750.4,415.5 L753.4,416.3 L756.5,416.4 L759.6,416.5 L762.7,416.5 L765.8,416.6 L768.9,416.6 L772.0,416.7 L775.1,416.7 L778.1,416.7 L781.2,416.7 L784.3,416.7 L787.4,416.7 L790.5,416.7 L793.6,416.7 L796.7,416.7 L799.8,416.7 L802.9,416.7 L805.9,416.7 L809.0,416.7 L812.1,416.8 L815.2,416.8 L818.3,416.9 L821.4,416.9 L824.5,417.0 L827.6,417.1 L830.6,417.3 L833.7,417.7 L836.7,418.1 L839.7,418.6 L842.6,419.2 L845.6,419.8 L848.6,420.5 L851.5,421.2 L854.5,422.0 L857.4,422.8 L860.4,423.6 L863.3,424.5 L866.2,425.3 L869.1,426.2 L872.0,427.1 L874.9,428.1 L877.8,429.0 L880.8,429.9 L883.7,430.8 L886.6,431.7 L889.5,432.6 L892.4,433.5 L895.2,434.4 L898.1,435.4 L901.0,436.4 L903.8,437.4 L906.7,438.5 L909.5,439.6 L912.3,440.8 L915.1,442.0 L917.8,443.3 L920.6,444.8 L923.3,446.3 L925.9,447.9 L928.4,449.6 L930.8,451.5 L933.1,453.5 L935.1,455.6 L937.0,458.0 L938.7,460.5 L940.1,463.1 L941.4,465.9 L942.5,468.7 L943.5,471.6 L944.5,474.5 L945.4,477.4 L946.3,480.4 L947.2,483.3 L948.2,486.2 L949.2,489.0 L950.2,491.9 L951.2,494.7 L952.1,497.7 L952.2,500.7 L952.3,503.7 L952.4,506.8 L952.6,509.8 L952.7,512.8 L952.8,515.9 L952.9,518.9 L953.0,522.0 L953.1,525.0 L953.2,528.0 L953.4,531.1 L953.5,534.1 L953.6,537.1 L953.7,540.2 L953.8,543.2 L954.0,546.3 L954.1,549.3 L954.2,552.3 L954.3,555.4 L954.5,558.4 L954.6,561.4 L954.7,564.5 L954.8,567.5 L954.9,570.6 L955.0,573.6 L955.2,576.6 L955.3,579.7 L955.4,582.7 L955.5,585.7 L955.6,588.8 L955.7,591.8 L955.8,594.9 L955.9,597.9 L956.0,600.9 L956.1,604.0 L956.2,607.0 L956.3,610.0 L956.4,613.1 L956.5,616.1 L956.6,619.2 L956.7,622.2 L956.8,625.2 L956.8,628.3 L956.9,631.3 L957.0,634.3 L957.1,637.4 L957.1,640.4 L957.2,643.5 L957.2,646.5 L957.3,649.5 L957.3,652.6 L957.4,655.6 L957.4,658.7 L957.5,661.7 L957.5,664.7 L957.5,667.8 L957.5,670.8 L957.6,673.8 L957.6,676.9 L960.6,677.0 L963.6,677.2 L966.5,677.4 L969.5,677.6 L972.5,677.8 L975.5,677.9 L978.5,678.2 L981.5,678.4 L984.5,678.6 L987.5,678.8 L990.5,679.1 L993.5,679.3 L996.5,679.6 L999.5,679.8 L1002.4,680.1 L1005.4,680.4 L1008.4,680.7 L1011.4,681.0 L1014.4,681.3 L1017.4,681.7 L1020.4,682.0 L1023.4,682.3 L1026.3,682.7 L1029.3,683.1 L1032.3,683.4 L1035.3,683.8 L1038.3,684.2 L1041.2,684.6 L1044.2,685.0 L1047.2,685.4 L1050.2,685.9 L1053.1,686.3 L1056.1,686.8 L1059.1,687.3 L1062.0,687.7 L1065.0,688.2 L1068.0,688.7 L1070.9,689.2 L1073.9,689.7 L1076.8,690.3 L1079.8,690.8 L1082.7,691.4 L1085.7,691.9 L1088.6,692.5 L1091.6,693.1 L1094.5,693.7 L1097.4,694.3 L1100.4,695.0 L1103.3,695.6 L1106.2,696.3 L1109.1,697.0 L1112.1,697.7 L1115.0,698.4 L1117.9,699.1 L1120.8,699.9 L1123.6,700.6 L1126.5,701.4 L1129.4,702.3 L1132.3,703.1 L1135.1,704.0 L1138.0,704.8 L1140.8,705.8 L1143.7,706.7 L1146.5,707.6 L1149.3,708.6 L1152.1,709.6 L1154.9,710.7 L1157.7,711.7 L1160.5,712.8 L1163.3,713.9 L1166.1,715.0 L1168.9,716.1 L1171.7,717.2 L1174.4,718.4 L1177.2,719.5 L1180.0,720.7 L1182.7,721.9 L1185.5,723.1 L1188.3,724.3 L1191.0,725.5 L1193.8,726.7 L1196.5,727.9 L1199.3,729.1 L1202.1,730.3 L1204.8,731.5 L1207.6,732.7 L1210.4,733.8 L1213.2,735.0 L1215.9,736.2 L1218.7,737.4 L1221.5,738.6 L1224.3,739.7 L1227.1,740.9 L1229.8,742.1 L1232.6,743.2 L1235.4,744.3 L1238.2,745.5 L1241.0,746.6 L1243.8,747.7 L1246.6,748.8 L1249.4,749.9 L1252.2,751.0 L1255.1,752.0 L1257.9,753.1 L1260.7,754.1 L1263.5,755.2 L1266.4,756.2 L1269.2,757.2 L1272.0,758.1 L1274.9,759.1 L1277.7,760.1 L1280.6,761.0 L1283.4,761.9 L1286.3,762.8 L1289.1,763.7 L1292.0,764.5 L1294.9,765.4 L1297.7,766.2 L1300.6,767.0 L1303.5,767.7 L1306.4,768.5 L1309.3,769.2 L1312.2,769.9 L1315.1,770.6 L1318.0,771.2 L1320.9,771.9 L1323.9,772.5 L1326.8,773.0 L1329.7,773.6 L1332.6,774.1 L1335.6,774.6 L1338.5,775.1 L1341.5,775.6 L1344.4,776.1 L1347.4,776.5 L1350.3,776.9 L1353.3,777.3 L1356.3,777.7 L1359.2,778.1 L1362.2,778.4 L1365.2,778.7 L1368.2,779.1 L1371.2,779.4 L1374.1,779.7 L1377.1,779.9 L1380.1,780.2 L1383.1,780.5 L1386.1,780.7 L1389.1,780.9 L1392.1,781.2 L1395.1,781.4 L1398.1,781.6 L1401.1,781.8 L1404.1,782.0 L1407.1,782.2 L1410.1,782.3 L1413.1,782.5 L1416.1,782.7 L1419.1,782.8 L1422.1,783.0 L1425.1,783.2 L1428.1,783.3 L1431.1,783.5 L1434.2,783.6 L1437.2,783.8 L1440.2,784.0 L1443.2,784.1 L1446.2,784.3 L1449.2,784.4 L1452.2,784.6 L1455.2,784.7 L1458.2,784.9 L1461.2,785.0 L1464.2,785.2 L1467.2,785.3 L1470.2,785.4 L1473.2,785.6 L1476.2,785.7 L1479.2,785.9 L1482.2,786.0 L1485.2,786.2 L1488.2,786.3 L1491.2,786.5 L1494.2,786.6 L1497.3,786.7 L1500.3,786.9 L1503.3,787.0 L1506.3,787.2 L1509.3,787.3 L1512.3,787.4 L1515.3,787.6 L1518.3,787.7 L1521.3,787.9 L1524.3,788.0 L1527.3,788.1 L1530.3,788.3 L1533.3,788.4 L1536.3,788.6 L1539.3,788.7 L1542.3,788.8 L1545.3,789.0 L1548.3,789.1 L1551.3,789.2 L1554.3,789.4 L1557.3,789.5 L1560.3,789.6 L1563.3,789.8 L1566.3,789.9 L1569.3,790.1 L1572.3,790.2 L1575.3,790.3 L1578.3,790.5 L1581.3,790.6 L1584.3,790.7 L1587.3,790.9 L1590.3,791.0 L1593.3,791.2 L1596.2,791.3 L1599.2,791.4 L1602.2,791.6 L1605.2,791.7 L1608.2,791.8 L1611.2,792.0 L1614.2,792.1 L1617.2,792.3 L1620.2,792.4 L1623.2,792.5 L1626.2,792.7 L1629.2,792.8 L1632.2,793.0 L1635.2,793.1 L1638.2,793.3 L1641.2,793.4 L1644.2,793.5 L1647.2,793.7 L1650.2,793.8 L1653.2,794.0 L1656.2,794.1 L1659.2,794.3 L1662.2,794.4 L1665.2,794.6 L1668.2,794.7 L1671.2,794.9 L1674.2,795.0 L1677.1,795.2 L1680.1,795.3 L1683.1,795.5 L1686.1,795.6 L1689.1,795.8 L1692.1,795.9 L1695.1,796.1 L1698.1,796.2 L1701.1,796.4 L1704.1,796.5 L1707.1,796.7 L1710.1,796.9 L1713.1,797.0 L1716.1,797.2 L1719.1,797.3 L1722.1,797.5 L1725.1,797.7 L1728.1,797.8 L1731.0,798.0 L1734.0,798.2 L1737.0,798.3 L1740.0,798.5 L1743.0,798.7 L1746.0,798.8 L1749.0,799.0 L1752.0,799.2 L1755.0,799.4 L1758.0,799.5 L1761.0,799.7 L1764.0,799.9 L1767.0,800.1 L1770.0,800.3 L1773.0,800.4 L1776.0,800.6 L1778.9,800.8 L1781.9,801.0 L1784.9,801.2 L1787.9,801.4 L1790.9,801.6 L1793.9,801.8 L1796.9,802.0 L1799.9,802.2 L1802.9,802.4 L1805.9,802.6 L1808.9,802.8 L1811.9,803.0 L1814.9,803.2 L1817.9,803.4 L1820.9,803.6 L1823.9,803.8 L1826.8,804.0 L1829.8,804.2 L1832.8,804.4 L1835.8,804.6 L1838.8,804.9 L1841.8,805.1 L1844.8,805.3 L1847.8,805.5 L1850.8,805.7 L1853.8,806.0 L1856.8,806.2 L1859.8,806.4 L1862.8,806.7 L1865.8,806.9 L1868.8,807.1 L1871.8,807.4 L1874.8,807.6 L1877.7,807.9 L1880.7,808.1 L1883.7,808.3 L1886.7,808.6 L1889.7,808.8 L1892.7,809.1 L1895.7,809.4 L1898.7,809.6 L1901.7,809.9 L1904.7,810.1 L1907.7,810.4 L1910.7,810.7 L1913.7,810.9 L1916.7,811.2 L1919.7,811.5 L1922.7,811.7"/>
</g>
<g fill="#000" shape-rendering="crispEdges">
<rect x="320" y="174" width="6" height="1447"/>
<rect x="308" y="1615" width="1810" height="6"/>
<rect x="308" y="1615" width="12" height="6"/>
<rect x="294" y="1495" width="26" height="6"/>
<rect x="308" y="1375" width="12" height="6"/>
<rect x="294" y="1255" width="26" height="6"/>
<rect x="308" y="1135" width="12" height="6"/>
<rect x="294" y="1015" width="26" height="6"/>
<rect x="308" y="895" width="12" height="6"/>
<rect x="294" y="775" width="26" height="6"/>
<rect x="308" y="654" width="12" height="6"/>
<rect x="294" y="534" width="26" height="6"/>
<rect x="308" y="414" width="12" height="6"/>
<rect x="294" y="294" width="26" height="6"/>
<rect x="308" y="174" width="12" height="6"/>
<rect x="320" y="1621" width="6" height="11"/>
<rect x="414" y="1621" width="6" height="25"/>
<rect x="508" y="1621" width="6" height="11"/>
<rect x="603" y="1621" width="6" height="25"/>
<rect x="697" y="1621" width="6" height="11"/>
<rect x="791" y="1621" width="6" height="25"/>
<rect x="886" y="1621" width="6" height="11"/>
<rect x="980" y="1621" width="6" height="25"/>
<rect x="1074" y="1621" width="6" height="11"/>
<rect x="1169" y="1621" width="6" height="25"/>
<rect x="1263" y="1621" width="6" height="11"/>
<rect x="1357" y="1621" width="6" height="25"/>
<rect x="1452" y="1621" width="6" height="11"/>
<rect x="1546" y="1621" width="6" height="25"/>
<rect x="1640" y="1621" width="6" height="11"/>
<rect x="1735" y="1621" width="6" height="25"/>
<rect x="1829" y="1621" width="6" height="11"/>
<rect x="1923" y="1621" width="6" height="25"/>
<rect x="2018" y="1621" width="6" height="11"/>
<rect x="2112" y="1621" width="6" height="25"/>
</g>
<text class="tick" transform="translate(274,1516.5) scale(1,1.04)" text-anchor="end">0</text>
<text class="tick" transform="translate(274,1276.3) scale(1,1.04)" text-anchor="end">20</text>
<text class="tick" transform="translate(274,1036.0) scale(1,1.04)" text-anchor="end">40</text>
<text class="tick" transform="translate(274,795.8) scale(1,1.04)" text-anchor="end">60</text>
<text class="tick" transform="translate(274,555.5) scale(1,1.04)" text-anchor="end">80</text>
<text class="tick" transform="translate(274,315.3) scale(1,1.04)" text-anchor="end">100</text>
<text class="tick" transform="translate(417.0,1712.8) scale(1,1.04)" text-anchor="middle">0</text>
<text class="tick" transform="translate(605.7,1712.8) scale(1,1.04)" text-anchor="middle">100</text>
<text class="tick" transform="translate(794.3,1712.8) scale(1,1.04)" text-anchor="middle">200</text>
<text class="tick" transform="translate(983.0,1712.8) scale(1,1.04)" text-anchor="middle">300</text>
<text class="tick" transform="translate(1171.7,1712.8) scale(1,1.04)" text-anchor="middle">400</text>
<text class="tick" transform="translate(1360.3,1712.8) scale(1,1.04)" text-anchor="middle">500</text>
<text class="tick" transform="translate(1549.0,1712.8) scale(1,1.04)" text-anchor="middle">600</text>
<text class="tick" transform="translate(1737.7,1712.8) scale(1,1.04)" text-anchor="middle">700</text>
<text class="tick" transform="translate(1926.3,1712.8) scale(1,1.04)" text-anchor="middle">800</text>
<text class="tick" transform="translate(2115.0,1712.8) scale(1,1.04)" text-anchor="middle">900</text>
<text class="ttl" transform="translate(1218.3,1827.7) scale(1,1.015)" text-anchor="middle">Temperature (°C)</text>
<text class="ttl" transform="translate(89.2,864) rotate(-90)" text-anchor="middle">% by weight</text>
<rect x="1812" y="66" width="169" height="4" fill="#1f3cff" shape-rendering="crispEdges"/>
<text class="leg" transform="translate(2001,94.0) scale(1,1.04)">GA</text>
<rect x="1812" y="158" width="169" height="4" fill="#ff0000" shape-rendering="crispEdges"/>
<text class="leg" transform="translate(2001,185.6) scale(1,1.04)">CN/AG</text>
<rect x="1812" y="250" width="169" height="5" fill="#009300" shape-rendering="crispEdges"/>
<text class="leg" transform="translate(2001,277.5) scale(1,1.04)">LU</text>
<rect x="1812" y="342" width="169" height="5" fill="#000000" shape-rendering="crispEdges"/>
<text class="leg" transform="translate(2001,369.7) scale(1,1.04)">NI</text>
<rect x="1812" y="434" width="169" height="5" fill="#00ffff" shape-rendering="crispEdges"/>
<text class="leg" transform="translate(2001,461.3) scale(1,1.04)">VE</text>
<rect x="1812" y="526" width="169" height="5" fill="#ff0080" shape-rendering="crispEdges"/>
<text class="leg" transform="translate(2001,552.9) scale(1,1.04)">VC</text>
</svg></body></html>
